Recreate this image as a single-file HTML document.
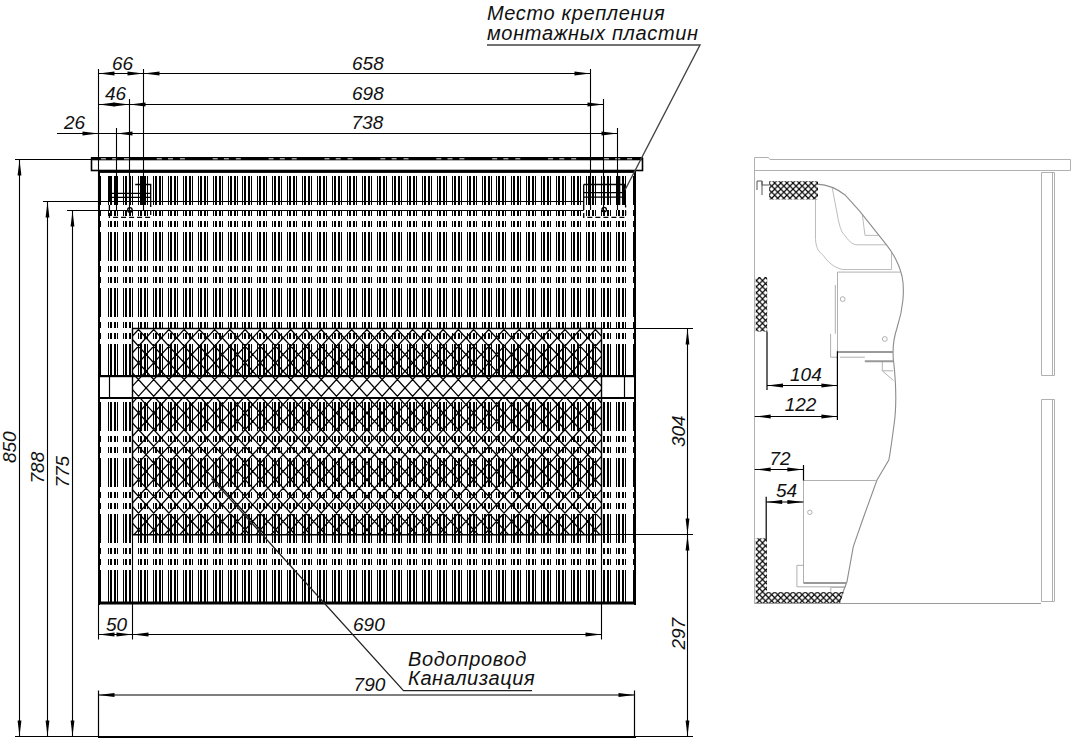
<!DOCTYPE html>
<html><head><meta charset="utf-8"><style>
html,body{margin:0;padding:0;background:#fff;width:1073px;height:745px;overflow:hidden}
svg{display:block}
text{font-family:"Liberation Sans",sans-serif;font-style:italic}
</style></head><body>
<svg width="1073" height="745" viewBox="0 0 1073 745">
<rect width="1073" height="745" fill="#fff"/>
<path d="M108 176h1v29h-1zM110 176h2v29h-2zM114 176h2v29h-2zM117 176h1v29h-1zM123 176h1v29h-1zM125 176h2v29h-2zM129 176h2v29h-2zM132 176h1v29h-1zM138 176h1v29h-1zM140 176h2v29h-2zM144 176h2v29h-2zM147 176h1v29h-1zM153 176h1v29h-1zM155 176h2v29h-2zM159 176h2v29h-2zM162 176h1v29h-1zM168 176h1v29h-1zM170 176h2v29h-2zM174 176h2v29h-2zM177 176h1v29h-1zM183 176h1v29h-1zM185 176h2v29h-2zM189 176h2v29h-2zM192 176h1v29h-1zM198 176h1v29h-1zM200 176h2v29h-2zM204 176h2v29h-2zM207 176h1v29h-1zM213 176h1v29h-1zM215 176h2v29h-2zM219 176h2v29h-2zM222 176h1v29h-1zM228 176h1v29h-1zM230 176h2v29h-2zM234 176h2v29h-2zM237 176h1v29h-1zM242 176h1v29h-1zM244 176h2v29h-2zM248 176h2v29h-2zM251 176h1v29h-1zM257 176h1v29h-1zM259 176h2v29h-2zM263 176h2v29h-2zM266 176h1v29h-1zM272 176h1v29h-1zM274 176h2v29h-2zM278 176h2v29h-2zM281 176h1v29h-1zM287 176h1v29h-1zM289 176h2v29h-2zM293 176h2v29h-2zM296 176h1v29h-1zM302 176h1v29h-1zM304 176h2v29h-2zM308 176h2v29h-2zM311 176h1v29h-1zM317 176h1v29h-1zM319 176h2v29h-2zM323 176h2v29h-2zM326 176h1v29h-1zM332 176h1v29h-1zM334 176h2v29h-2zM338 176h2v29h-2zM341 176h1v29h-1zM347 176h1v29h-1zM349 176h2v29h-2zM353 176h2v29h-2zM356 176h1v29h-1zM362 176h1v29h-1zM364 176h2v29h-2zM368 176h2v29h-2zM371 176h1v29h-1zM377 176h1v29h-1zM379 176h2v29h-2zM383 176h2v29h-2zM386 176h1v29h-1zM392 176h1v29h-1zM394 176h2v29h-2zM398 176h2v29h-2zM401 176h1v29h-1zM407 176h1v29h-1zM409 176h2v29h-2zM413 176h2v29h-2zM416 176h1v29h-1zM422 176h1v29h-1zM424 176h2v29h-2zM428 176h2v29h-2zM431 176h1v29h-1zM437 176h1v29h-1zM439 176h2v29h-2zM443 176h2v29h-2zM446 176h1v29h-1zM452 176h1v29h-1zM454 176h2v29h-2zM458 176h2v29h-2zM461 176h1v29h-1zM467 176h1v29h-1zM469 176h2v29h-2zM473 176h2v29h-2zM476 176h1v29h-1zM482 176h1v29h-1zM484 176h2v29h-2zM488 176h2v29h-2zM491 176h1v29h-1zM496 176h1v29h-1zM498 176h2v29h-2zM502 176h2v29h-2zM505 176h1v29h-1zM511 176h1v29h-1zM513 176h2v29h-2zM517 176h2v29h-2zM520 176h1v29h-1zM526 176h1v29h-1zM528 176h2v29h-2zM532 176h2v29h-2zM535 176h1v29h-1zM541 176h1v29h-1zM543 176h2v29h-2zM547 176h2v29h-2zM550 176h1v29h-1zM556 176h1v29h-1zM558 176h2v29h-2zM562 176h2v29h-2zM565 176h1v29h-1zM571 176h1v29h-1zM573 176h2v29h-2zM577 176h2v29h-2zM580 176h1v29h-1zM586 176h1v29h-1zM588 176h2v29h-2zM592 176h2v29h-2zM595 176h1v29h-1zM601 176h1v29h-1zM603 176h2v29h-2zM607 176h2v29h-2zM610 176h1v29h-1zM616 176h1v29h-1zM618 176h2v29h-2zM622 176h2v29h-2zM625 176h1v29h-1zM100 176h1v29h-1zM633 176h1v29h-1zM108 210h1v6h-1zM110 210h2v6h-2zM114 210h2v6h-2zM117 210h1v6h-1zM123 210h1v6h-1zM125 210h2v6h-2zM129 210h2v6h-2zM132 210h1v6h-1zM138 210h1v6h-1zM140 210h2v6h-2zM144 210h2v6h-2zM147 210h1v6h-1zM153 210h1v6h-1zM155 210h2v6h-2zM159 210h2v6h-2zM162 210h1v6h-1zM168 210h1v6h-1zM170 210h2v6h-2zM174 210h2v6h-2zM177 210h1v6h-1zM183 210h1v6h-1zM185 210h2v6h-2zM189 210h2v6h-2zM192 210h1v6h-1zM198 210h1v6h-1zM200 210h2v6h-2zM204 210h2v6h-2zM207 210h1v6h-1zM213 210h1v6h-1zM215 210h2v6h-2zM219 210h2v6h-2zM222 210h1v6h-1zM228 210h1v6h-1zM230 210h2v6h-2zM234 210h2v6h-2zM237 210h1v6h-1zM242 210h1v6h-1zM244 210h2v6h-2zM248 210h2v6h-2zM251 210h1v6h-1zM257 210h1v6h-1zM259 210h2v6h-2zM263 210h2v6h-2zM266 210h1v6h-1zM272 210h1v6h-1zM274 210h2v6h-2zM278 210h2v6h-2zM281 210h1v6h-1zM287 210h1v6h-1zM289 210h2v6h-2zM293 210h2v6h-2zM296 210h1v6h-1zM302 210h1v6h-1zM304 210h2v6h-2zM308 210h2v6h-2zM311 210h1v6h-1zM317 210h1v6h-1zM319 210h2v6h-2zM323 210h2v6h-2zM326 210h1v6h-1zM332 210h1v6h-1zM334 210h2v6h-2zM338 210h2v6h-2zM341 210h1v6h-1zM347 210h1v6h-1zM349 210h2v6h-2zM353 210h2v6h-2zM356 210h1v6h-1zM362 210h1v6h-1zM364 210h2v6h-2zM368 210h2v6h-2zM371 210h1v6h-1zM377 210h1v6h-1zM379 210h2v6h-2zM383 210h2v6h-2zM386 210h1v6h-1zM392 210h1v6h-1zM394 210h2v6h-2zM398 210h2v6h-2zM401 210h1v6h-1zM407 210h1v6h-1zM409 210h2v6h-2zM413 210h2v6h-2zM416 210h1v6h-1zM422 210h1v6h-1zM424 210h2v6h-2zM428 210h2v6h-2zM431 210h1v6h-1zM437 210h1v6h-1zM439 210h2v6h-2zM443 210h2v6h-2zM446 210h1v6h-1zM452 210h1v6h-1zM454 210h2v6h-2zM458 210h2v6h-2zM461 210h1v6h-1zM467 210h1v6h-1zM469 210h2v6h-2zM473 210h2v6h-2zM476 210h1v6h-1zM482 210h1v6h-1zM484 210h2v6h-2zM488 210h2v6h-2zM491 210h1v6h-1zM496 210h1v6h-1zM498 210h2v6h-2zM502 210h2v6h-2zM505 210h1v6h-1zM511 210h1v6h-1zM513 210h2v6h-2zM517 210h2v6h-2zM520 210h1v6h-1zM526 210h1v6h-1zM528 210h2v6h-2zM532 210h2v6h-2zM535 210h1v6h-1zM541 210h1v6h-1zM543 210h2v6h-2zM547 210h2v6h-2zM550 210h1v6h-1zM556 210h1v6h-1zM558 210h2v6h-2zM562 210h2v6h-2zM565 210h1v6h-1zM571 210h1v6h-1zM573 210h2v6h-2zM577 210h2v6h-2zM580 210h1v6h-1zM586 210h1v6h-1zM588 210h2v6h-2zM592 210h2v6h-2zM595 210h1v6h-1zM601 210h1v6h-1zM603 210h2v6h-2zM607 210h2v6h-2zM610 210h1v6h-1zM616 210h1v6h-1zM618 210h2v6h-2zM622 210h2v6h-2zM625 210h1v6h-1zM100 210h1v6h-1zM633 210h1v6h-1zM108 221h1v6h-1zM110 221h2v6h-2zM114 221h2v6h-2zM117 221h1v6h-1zM123 221h1v6h-1zM125 221h2v6h-2zM129 221h2v6h-2zM132 221h1v6h-1zM138 221h1v6h-1zM140 221h2v6h-2zM144 221h2v6h-2zM147 221h1v6h-1zM153 221h1v6h-1zM155 221h2v6h-2zM159 221h2v6h-2zM162 221h1v6h-1zM168 221h1v6h-1zM170 221h2v6h-2zM174 221h2v6h-2zM177 221h1v6h-1zM183 221h1v6h-1zM185 221h2v6h-2zM189 221h2v6h-2zM192 221h1v6h-1zM198 221h1v6h-1zM200 221h2v6h-2zM204 221h2v6h-2zM207 221h1v6h-1zM213 221h1v6h-1zM215 221h2v6h-2zM219 221h2v6h-2zM222 221h1v6h-1zM228 221h1v6h-1zM230 221h2v6h-2zM234 221h2v6h-2zM237 221h1v6h-1zM242 221h1v6h-1zM244 221h2v6h-2zM248 221h2v6h-2zM251 221h1v6h-1zM257 221h1v6h-1zM259 221h2v6h-2zM263 221h2v6h-2zM266 221h1v6h-1zM272 221h1v6h-1zM274 221h2v6h-2zM278 221h2v6h-2zM281 221h1v6h-1zM287 221h1v6h-1zM289 221h2v6h-2zM293 221h2v6h-2zM296 221h1v6h-1zM302 221h1v6h-1zM304 221h2v6h-2zM308 221h2v6h-2zM311 221h1v6h-1zM317 221h1v6h-1zM319 221h2v6h-2zM323 221h2v6h-2zM326 221h1v6h-1zM332 221h1v6h-1zM334 221h2v6h-2zM338 221h2v6h-2zM341 221h1v6h-1zM347 221h1v6h-1zM349 221h2v6h-2zM353 221h2v6h-2zM356 221h1v6h-1zM362 221h1v6h-1zM364 221h2v6h-2zM368 221h2v6h-2zM371 221h1v6h-1zM377 221h1v6h-1zM379 221h2v6h-2zM383 221h2v6h-2zM386 221h1v6h-1zM392 221h1v6h-1zM394 221h2v6h-2zM398 221h2v6h-2zM401 221h1v6h-1zM407 221h1v6h-1zM409 221h2v6h-2zM413 221h2v6h-2zM416 221h1v6h-1zM422 221h1v6h-1zM424 221h2v6h-2zM428 221h2v6h-2zM431 221h1v6h-1zM437 221h1v6h-1zM439 221h2v6h-2zM443 221h2v6h-2zM446 221h1v6h-1zM452 221h1v6h-1zM454 221h2v6h-2zM458 221h2v6h-2zM461 221h1v6h-1zM467 221h1v6h-1zM469 221h2v6h-2zM473 221h2v6h-2zM476 221h1v6h-1zM482 221h1v6h-1zM484 221h2v6h-2zM488 221h2v6h-2zM491 221h1v6h-1zM496 221h1v6h-1zM498 221h2v6h-2zM502 221h2v6h-2zM505 221h1v6h-1zM511 221h1v6h-1zM513 221h2v6h-2zM517 221h2v6h-2zM520 221h1v6h-1zM526 221h1v6h-1zM528 221h2v6h-2zM532 221h2v6h-2zM535 221h1v6h-1zM541 221h1v6h-1zM543 221h2v6h-2zM547 221h2v6h-2zM550 221h1v6h-1zM556 221h1v6h-1zM558 221h2v6h-2zM562 221h2v6h-2zM565 221h1v6h-1zM571 221h1v6h-1zM573 221h2v6h-2zM577 221h2v6h-2zM580 221h1v6h-1zM586 221h1v6h-1zM588 221h2v6h-2zM592 221h2v6h-2zM595 221h1v6h-1zM601 221h1v6h-1zM603 221h2v6h-2zM607 221h2v6h-2zM610 221h1v6h-1zM616 221h1v6h-1zM618 221h2v6h-2zM622 221h2v6h-2zM625 221h1v6h-1zM100 221h1v6h-1zM633 221h1v6h-1zM108 232h1v29h-1zM110 232h2v29h-2zM114 232h2v29h-2zM117 232h1v29h-1zM123 232h1v29h-1zM125 232h2v29h-2zM129 232h2v29h-2zM132 232h1v29h-1zM138 232h1v29h-1zM140 232h2v29h-2zM144 232h2v29h-2zM147 232h1v29h-1zM153 232h1v29h-1zM155 232h2v29h-2zM159 232h2v29h-2zM162 232h1v29h-1zM168 232h1v29h-1zM170 232h2v29h-2zM174 232h2v29h-2zM177 232h1v29h-1zM183 232h1v29h-1zM185 232h2v29h-2zM189 232h2v29h-2zM192 232h1v29h-1zM198 232h1v29h-1zM200 232h2v29h-2zM204 232h2v29h-2zM207 232h1v29h-1zM213 232h1v29h-1zM215 232h2v29h-2zM219 232h2v29h-2zM222 232h1v29h-1zM228 232h1v29h-1zM230 232h2v29h-2zM234 232h2v29h-2zM237 232h1v29h-1zM242 232h1v29h-1zM244 232h2v29h-2zM248 232h2v29h-2zM251 232h1v29h-1zM257 232h1v29h-1zM259 232h2v29h-2zM263 232h2v29h-2zM266 232h1v29h-1zM272 232h1v29h-1zM274 232h2v29h-2zM278 232h2v29h-2zM281 232h1v29h-1zM287 232h1v29h-1zM289 232h2v29h-2zM293 232h2v29h-2zM296 232h1v29h-1zM302 232h1v29h-1zM304 232h2v29h-2zM308 232h2v29h-2zM311 232h1v29h-1zM317 232h1v29h-1zM319 232h2v29h-2zM323 232h2v29h-2zM326 232h1v29h-1zM332 232h1v29h-1zM334 232h2v29h-2zM338 232h2v29h-2zM341 232h1v29h-1zM347 232h1v29h-1zM349 232h2v29h-2zM353 232h2v29h-2zM356 232h1v29h-1zM362 232h1v29h-1zM364 232h2v29h-2zM368 232h2v29h-2zM371 232h1v29h-1zM377 232h1v29h-1zM379 232h2v29h-2zM383 232h2v29h-2zM386 232h1v29h-1zM392 232h1v29h-1zM394 232h2v29h-2zM398 232h2v29h-2zM401 232h1v29h-1zM407 232h1v29h-1zM409 232h2v29h-2zM413 232h2v29h-2zM416 232h1v29h-1zM422 232h1v29h-1zM424 232h2v29h-2zM428 232h2v29h-2zM431 232h1v29h-1zM437 232h1v29h-1zM439 232h2v29h-2zM443 232h2v29h-2zM446 232h1v29h-1zM452 232h1v29h-1zM454 232h2v29h-2zM458 232h2v29h-2zM461 232h1v29h-1zM467 232h1v29h-1zM469 232h2v29h-2zM473 232h2v29h-2zM476 232h1v29h-1zM482 232h1v29h-1zM484 232h2v29h-2zM488 232h2v29h-2zM491 232h1v29h-1zM496 232h1v29h-1zM498 232h2v29h-2zM502 232h2v29h-2zM505 232h1v29h-1zM511 232h1v29h-1zM513 232h2v29h-2zM517 232h2v29h-2zM520 232h1v29h-1zM526 232h1v29h-1zM528 232h2v29h-2zM532 232h2v29h-2zM535 232h1v29h-1zM541 232h1v29h-1zM543 232h2v29h-2zM547 232h2v29h-2zM550 232h1v29h-1zM556 232h1v29h-1zM558 232h2v29h-2zM562 232h2v29h-2zM565 232h1v29h-1zM571 232h1v29h-1zM573 232h2v29h-2zM577 232h2v29h-2zM580 232h1v29h-1zM586 232h1v29h-1zM588 232h2v29h-2zM592 232h2v29h-2zM595 232h1v29h-1zM601 232h1v29h-1zM603 232h2v29h-2zM607 232h2v29h-2zM610 232h1v29h-1zM616 232h1v29h-1zM618 232h2v29h-2zM622 232h2v29h-2zM625 232h1v29h-1zM100 232h1v29h-1zM633 232h1v29h-1zM108 266h1v6h-1zM110 266h2v6h-2zM114 266h2v6h-2zM117 266h1v6h-1zM123 266h1v6h-1zM125 266h2v6h-2zM129 266h2v6h-2zM132 266h1v6h-1zM138 266h1v6h-1zM140 266h2v6h-2zM144 266h2v6h-2zM147 266h1v6h-1zM153 266h1v6h-1zM155 266h2v6h-2zM159 266h2v6h-2zM162 266h1v6h-1zM168 266h1v6h-1zM170 266h2v6h-2zM174 266h2v6h-2zM177 266h1v6h-1zM183 266h1v6h-1zM185 266h2v6h-2zM189 266h2v6h-2zM192 266h1v6h-1zM198 266h1v6h-1zM200 266h2v6h-2zM204 266h2v6h-2zM207 266h1v6h-1zM213 266h1v6h-1zM215 266h2v6h-2zM219 266h2v6h-2zM222 266h1v6h-1zM228 266h1v6h-1zM230 266h2v6h-2zM234 266h2v6h-2zM237 266h1v6h-1zM242 266h1v6h-1zM244 266h2v6h-2zM248 266h2v6h-2zM251 266h1v6h-1zM257 266h1v6h-1zM259 266h2v6h-2zM263 266h2v6h-2zM266 266h1v6h-1zM272 266h1v6h-1zM274 266h2v6h-2zM278 266h2v6h-2zM281 266h1v6h-1zM287 266h1v6h-1zM289 266h2v6h-2zM293 266h2v6h-2zM296 266h1v6h-1zM302 266h1v6h-1zM304 266h2v6h-2zM308 266h2v6h-2zM311 266h1v6h-1zM317 266h1v6h-1zM319 266h2v6h-2zM323 266h2v6h-2zM326 266h1v6h-1zM332 266h1v6h-1zM334 266h2v6h-2zM338 266h2v6h-2zM341 266h1v6h-1zM347 266h1v6h-1zM349 266h2v6h-2zM353 266h2v6h-2zM356 266h1v6h-1zM362 266h1v6h-1zM364 266h2v6h-2zM368 266h2v6h-2zM371 266h1v6h-1zM377 266h1v6h-1zM379 266h2v6h-2zM383 266h2v6h-2zM386 266h1v6h-1zM392 266h1v6h-1zM394 266h2v6h-2zM398 266h2v6h-2zM401 266h1v6h-1zM407 266h1v6h-1zM409 266h2v6h-2zM413 266h2v6h-2zM416 266h1v6h-1zM422 266h1v6h-1zM424 266h2v6h-2zM428 266h2v6h-2zM431 266h1v6h-1zM437 266h1v6h-1zM439 266h2v6h-2zM443 266h2v6h-2zM446 266h1v6h-1zM452 266h1v6h-1zM454 266h2v6h-2zM458 266h2v6h-2zM461 266h1v6h-1zM467 266h1v6h-1zM469 266h2v6h-2zM473 266h2v6h-2zM476 266h1v6h-1zM482 266h1v6h-1zM484 266h2v6h-2zM488 266h2v6h-2zM491 266h1v6h-1zM496 266h1v6h-1zM498 266h2v6h-2zM502 266h2v6h-2zM505 266h1v6h-1zM511 266h1v6h-1zM513 266h2v6h-2zM517 266h2v6h-2zM520 266h1v6h-1zM526 266h1v6h-1zM528 266h2v6h-2zM532 266h2v6h-2zM535 266h1v6h-1zM541 266h1v6h-1zM543 266h2v6h-2zM547 266h2v6h-2zM550 266h1v6h-1zM556 266h1v6h-1zM558 266h2v6h-2zM562 266h2v6h-2zM565 266h1v6h-1zM571 266h1v6h-1zM573 266h2v6h-2zM577 266h2v6h-2zM580 266h1v6h-1zM586 266h1v6h-1zM588 266h2v6h-2zM592 266h2v6h-2zM595 266h1v6h-1zM601 266h1v6h-1zM603 266h2v6h-2zM607 266h2v6h-2zM610 266h1v6h-1zM616 266h1v6h-1zM618 266h2v6h-2zM622 266h2v6h-2zM625 266h1v6h-1zM100 266h1v6h-1zM633 266h1v6h-1zM108 277h1v6h-1zM110 277h2v6h-2zM114 277h2v6h-2zM117 277h1v6h-1zM123 277h1v6h-1zM125 277h2v6h-2zM129 277h2v6h-2zM132 277h1v6h-1zM138 277h1v6h-1zM140 277h2v6h-2zM144 277h2v6h-2zM147 277h1v6h-1zM153 277h1v6h-1zM155 277h2v6h-2zM159 277h2v6h-2zM162 277h1v6h-1zM168 277h1v6h-1zM170 277h2v6h-2zM174 277h2v6h-2zM177 277h1v6h-1zM183 277h1v6h-1zM185 277h2v6h-2zM189 277h2v6h-2zM192 277h1v6h-1zM198 277h1v6h-1zM200 277h2v6h-2zM204 277h2v6h-2zM207 277h1v6h-1zM213 277h1v6h-1zM215 277h2v6h-2zM219 277h2v6h-2zM222 277h1v6h-1zM228 277h1v6h-1zM230 277h2v6h-2zM234 277h2v6h-2zM237 277h1v6h-1zM242 277h1v6h-1zM244 277h2v6h-2zM248 277h2v6h-2zM251 277h1v6h-1zM257 277h1v6h-1zM259 277h2v6h-2zM263 277h2v6h-2zM266 277h1v6h-1zM272 277h1v6h-1zM274 277h2v6h-2zM278 277h2v6h-2zM281 277h1v6h-1zM287 277h1v6h-1zM289 277h2v6h-2zM293 277h2v6h-2zM296 277h1v6h-1zM302 277h1v6h-1zM304 277h2v6h-2zM308 277h2v6h-2zM311 277h1v6h-1zM317 277h1v6h-1zM319 277h2v6h-2zM323 277h2v6h-2zM326 277h1v6h-1zM332 277h1v6h-1zM334 277h2v6h-2zM338 277h2v6h-2zM341 277h1v6h-1zM347 277h1v6h-1zM349 277h2v6h-2zM353 277h2v6h-2zM356 277h1v6h-1zM362 277h1v6h-1zM364 277h2v6h-2zM368 277h2v6h-2zM371 277h1v6h-1zM377 277h1v6h-1zM379 277h2v6h-2zM383 277h2v6h-2zM386 277h1v6h-1zM392 277h1v6h-1zM394 277h2v6h-2zM398 277h2v6h-2zM401 277h1v6h-1zM407 277h1v6h-1zM409 277h2v6h-2zM413 277h2v6h-2zM416 277h1v6h-1zM422 277h1v6h-1zM424 277h2v6h-2zM428 277h2v6h-2zM431 277h1v6h-1zM437 277h1v6h-1zM439 277h2v6h-2zM443 277h2v6h-2zM446 277h1v6h-1zM452 277h1v6h-1zM454 277h2v6h-2zM458 277h2v6h-2zM461 277h1v6h-1zM467 277h1v6h-1zM469 277h2v6h-2zM473 277h2v6h-2zM476 277h1v6h-1zM482 277h1v6h-1zM484 277h2v6h-2zM488 277h2v6h-2zM491 277h1v6h-1zM496 277h1v6h-1zM498 277h2v6h-2zM502 277h2v6h-2zM505 277h1v6h-1zM511 277h1v6h-1zM513 277h2v6h-2zM517 277h2v6h-2zM520 277h1v6h-1zM526 277h1v6h-1zM528 277h2v6h-2zM532 277h2v6h-2zM535 277h1v6h-1zM541 277h1v6h-1zM543 277h2v6h-2zM547 277h2v6h-2zM550 277h1v6h-1zM556 277h1v6h-1zM558 277h2v6h-2zM562 277h2v6h-2zM565 277h1v6h-1zM571 277h1v6h-1zM573 277h2v6h-2zM577 277h2v6h-2zM580 277h1v6h-1zM586 277h1v6h-1zM588 277h2v6h-2zM592 277h2v6h-2zM595 277h1v6h-1zM601 277h1v6h-1zM603 277h2v6h-2zM607 277h2v6h-2zM610 277h1v6h-1zM616 277h1v6h-1zM618 277h2v6h-2zM622 277h2v6h-2zM625 277h1v6h-1zM100 277h1v6h-1zM633 277h1v6h-1zM108 288h1v29h-1zM110 288h2v29h-2zM114 288h2v29h-2zM117 288h1v29h-1zM123 288h1v29h-1zM125 288h2v29h-2zM129 288h2v29h-2zM132 288h1v29h-1zM138 288h1v29h-1zM140 288h2v29h-2zM144 288h2v29h-2zM147 288h1v29h-1zM153 288h1v29h-1zM155 288h2v29h-2zM159 288h2v29h-2zM162 288h1v29h-1zM168 288h1v29h-1zM170 288h2v29h-2zM174 288h2v29h-2zM177 288h1v29h-1zM183 288h1v29h-1zM185 288h2v29h-2zM189 288h2v29h-2zM192 288h1v29h-1zM198 288h1v29h-1zM200 288h2v29h-2zM204 288h2v29h-2zM207 288h1v29h-1zM213 288h1v29h-1zM215 288h2v29h-2zM219 288h2v29h-2zM222 288h1v29h-1zM228 288h1v29h-1zM230 288h2v29h-2zM234 288h2v29h-2zM237 288h1v29h-1zM242 288h1v29h-1zM244 288h2v29h-2zM248 288h2v29h-2zM251 288h1v29h-1zM257 288h1v29h-1zM259 288h2v29h-2zM263 288h2v29h-2zM266 288h1v29h-1zM272 288h1v29h-1zM274 288h2v29h-2zM278 288h2v29h-2zM281 288h1v29h-1zM287 288h1v29h-1zM289 288h2v29h-2zM293 288h2v29h-2zM296 288h1v29h-1zM302 288h1v29h-1zM304 288h2v29h-2zM308 288h2v29h-2zM311 288h1v29h-1zM317 288h1v29h-1zM319 288h2v29h-2zM323 288h2v29h-2zM326 288h1v29h-1zM332 288h1v29h-1zM334 288h2v29h-2zM338 288h2v29h-2zM341 288h1v29h-1zM347 288h1v29h-1zM349 288h2v29h-2zM353 288h2v29h-2zM356 288h1v29h-1zM362 288h1v29h-1zM364 288h2v29h-2zM368 288h2v29h-2zM371 288h1v29h-1zM377 288h1v29h-1zM379 288h2v29h-2zM383 288h2v29h-2zM386 288h1v29h-1zM392 288h1v29h-1zM394 288h2v29h-2zM398 288h2v29h-2zM401 288h1v29h-1zM407 288h1v29h-1zM409 288h2v29h-2zM413 288h2v29h-2zM416 288h1v29h-1zM422 288h1v29h-1zM424 288h2v29h-2zM428 288h2v29h-2zM431 288h1v29h-1zM437 288h1v29h-1zM439 288h2v29h-2zM443 288h2v29h-2zM446 288h1v29h-1zM452 288h1v29h-1zM454 288h2v29h-2zM458 288h2v29h-2zM461 288h1v29h-1zM467 288h1v29h-1zM469 288h2v29h-2zM473 288h2v29h-2zM476 288h1v29h-1zM482 288h1v29h-1zM484 288h2v29h-2zM488 288h2v29h-2zM491 288h1v29h-1zM496 288h1v29h-1zM498 288h2v29h-2zM502 288h2v29h-2zM505 288h1v29h-1zM511 288h1v29h-1zM513 288h2v29h-2zM517 288h2v29h-2zM520 288h1v29h-1zM526 288h1v29h-1zM528 288h2v29h-2zM532 288h2v29h-2zM535 288h1v29h-1zM541 288h1v29h-1zM543 288h2v29h-2zM547 288h2v29h-2zM550 288h1v29h-1zM556 288h1v29h-1zM558 288h2v29h-2zM562 288h2v29h-2zM565 288h1v29h-1zM571 288h1v29h-1zM573 288h2v29h-2zM577 288h2v29h-2zM580 288h1v29h-1zM586 288h1v29h-1zM588 288h2v29h-2zM592 288h2v29h-2zM595 288h1v29h-1zM601 288h1v29h-1zM603 288h2v29h-2zM607 288h2v29h-2zM610 288h1v29h-1zM616 288h1v29h-1zM618 288h2v29h-2zM622 288h2v29h-2zM625 288h1v29h-1zM100 288h1v29h-1zM633 288h1v29h-1zM108 322h1v6h-1zM110 322h2v6h-2zM114 322h2v6h-2zM117 322h1v6h-1zM123 322h1v6h-1zM125 322h2v6h-2zM129 322h2v6h-2zM132 322h1v6h-1zM138 322h1v6h-1zM140 322h2v6h-2zM144 322h2v6h-2zM147 322h1v6h-1zM153 322h1v6h-1zM155 322h2v6h-2zM159 322h2v6h-2zM162 322h1v6h-1zM168 322h1v6h-1zM170 322h2v6h-2zM174 322h2v6h-2zM177 322h1v6h-1zM183 322h1v6h-1zM185 322h2v6h-2zM189 322h2v6h-2zM192 322h1v6h-1zM198 322h1v6h-1zM200 322h2v6h-2zM204 322h2v6h-2zM207 322h1v6h-1zM213 322h1v6h-1zM215 322h2v6h-2zM219 322h2v6h-2zM222 322h1v6h-1zM228 322h1v6h-1zM230 322h2v6h-2zM234 322h2v6h-2zM237 322h1v6h-1zM242 322h1v6h-1zM244 322h2v6h-2zM248 322h2v6h-2zM251 322h1v6h-1zM257 322h1v6h-1zM259 322h2v6h-2zM263 322h2v6h-2zM266 322h1v6h-1zM272 322h1v6h-1zM274 322h2v6h-2zM278 322h2v6h-2zM281 322h1v6h-1zM287 322h1v6h-1zM289 322h2v6h-2zM293 322h2v6h-2zM296 322h1v6h-1zM302 322h1v6h-1zM304 322h2v6h-2zM308 322h2v6h-2zM311 322h1v6h-1zM317 322h1v6h-1zM319 322h2v6h-2zM323 322h2v6h-2zM326 322h1v6h-1zM332 322h1v6h-1zM334 322h2v6h-2zM338 322h2v6h-2zM341 322h1v6h-1zM347 322h1v6h-1zM349 322h2v6h-2zM353 322h2v6h-2zM356 322h1v6h-1zM362 322h1v6h-1zM364 322h2v6h-2zM368 322h2v6h-2zM371 322h1v6h-1zM377 322h1v6h-1zM379 322h2v6h-2zM383 322h2v6h-2zM386 322h1v6h-1zM392 322h1v6h-1zM394 322h2v6h-2zM398 322h2v6h-2zM401 322h1v6h-1zM407 322h1v6h-1zM409 322h2v6h-2zM413 322h2v6h-2zM416 322h1v6h-1zM422 322h1v6h-1zM424 322h2v6h-2zM428 322h2v6h-2zM431 322h1v6h-1zM437 322h1v6h-1zM439 322h2v6h-2zM443 322h2v6h-2zM446 322h1v6h-1zM452 322h1v6h-1zM454 322h2v6h-2zM458 322h2v6h-2zM461 322h1v6h-1zM467 322h1v6h-1zM469 322h2v6h-2zM473 322h2v6h-2zM476 322h1v6h-1zM482 322h1v6h-1zM484 322h2v6h-2zM488 322h2v6h-2zM491 322h1v6h-1zM496 322h1v6h-1zM498 322h2v6h-2zM502 322h2v6h-2zM505 322h1v6h-1zM511 322h1v6h-1zM513 322h2v6h-2zM517 322h2v6h-2zM520 322h1v6h-1zM526 322h1v6h-1zM528 322h2v6h-2zM532 322h2v6h-2zM535 322h1v6h-1zM541 322h1v6h-1zM543 322h2v6h-2zM547 322h2v6h-2zM550 322h1v6h-1zM556 322h1v6h-1zM558 322h2v6h-2zM562 322h2v6h-2zM565 322h1v6h-1zM571 322h1v6h-1zM573 322h2v6h-2zM577 322h2v6h-2zM580 322h1v6h-1zM586 322h1v6h-1zM588 322h2v6h-2zM592 322h2v6h-2zM595 322h1v6h-1zM601 322h1v6h-1zM603 322h2v6h-2zM607 322h2v6h-2zM610 322h1v6h-1zM616 322h1v6h-1zM618 322h2v6h-2zM622 322h2v6h-2zM625 322h1v6h-1zM100 322h1v6h-1zM633 322h1v6h-1zM108 333h1v6h-1zM110 333h2v6h-2zM114 333h2v6h-2zM117 333h1v6h-1zM123 333h1v6h-1zM125 333h2v6h-2zM129 333h2v6h-2zM132 333h1v6h-1zM138 333h1v6h-1zM140 333h2v6h-2zM144 333h2v6h-2zM147 333h1v6h-1zM153 333h1v6h-1zM155 333h2v6h-2zM159 333h2v6h-2zM162 333h1v6h-1zM168 333h1v6h-1zM170 333h2v6h-2zM174 333h2v6h-2zM177 333h1v6h-1zM183 333h1v6h-1zM185 333h2v6h-2zM189 333h2v6h-2zM192 333h1v6h-1zM198 333h1v6h-1zM200 333h2v6h-2zM204 333h2v6h-2zM207 333h1v6h-1zM213 333h1v6h-1zM215 333h2v6h-2zM219 333h2v6h-2zM222 333h1v6h-1zM228 333h1v6h-1zM230 333h2v6h-2zM234 333h2v6h-2zM237 333h1v6h-1zM242 333h1v6h-1zM244 333h2v6h-2zM248 333h2v6h-2zM251 333h1v6h-1zM257 333h1v6h-1zM259 333h2v6h-2zM263 333h2v6h-2zM266 333h1v6h-1zM272 333h1v6h-1zM274 333h2v6h-2zM278 333h2v6h-2zM281 333h1v6h-1zM287 333h1v6h-1zM289 333h2v6h-2zM293 333h2v6h-2zM296 333h1v6h-1zM302 333h1v6h-1zM304 333h2v6h-2zM308 333h2v6h-2zM311 333h1v6h-1zM317 333h1v6h-1zM319 333h2v6h-2zM323 333h2v6h-2zM326 333h1v6h-1zM332 333h1v6h-1zM334 333h2v6h-2zM338 333h2v6h-2zM341 333h1v6h-1zM347 333h1v6h-1zM349 333h2v6h-2zM353 333h2v6h-2zM356 333h1v6h-1zM362 333h1v6h-1zM364 333h2v6h-2zM368 333h2v6h-2zM371 333h1v6h-1zM377 333h1v6h-1zM379 333h2v6h-2zM383 333h2v6h-2zM386 333h1v6h-1zM392 333h1v6h-1zM394 333h2v6h-2zM398 333h2v6h-2zM401 333h1v6h-1zM407 333h1v6h-1zM409 333h2v6h-2zM413 333h2v6h-2zM416 333h1v6h-1zM422 333h1v6h-1zM424 333h2v6h-2zM428 333h2v6h-2zM431 333h1v6h-1zM437 333h1v6h-1zM439 333h2v6h-2zM443 333h2v6h-2zM446 333h1v6h-1zM452 333h1v6h-1zM454 333h2v6h-2zM458 333h2v6h-2zM461 333h1v6h-1zM467 333h1v6h-1zM469 333h2v6h-2zM473 333h2v6h-2zM476 333h1v6h-1zM482 333h1v6h-1zM484 333h2v6h-2zM488 333h2v6h-2zM491 333h1v6h-1zM496 333h1v6h-1zM498 333h2v6h-2zM502 333h2v6h-2zM505 333h1v6h-1zM511 333h1v6h-1zM513 333h2v6h-2zM517 333h2v6h-2zM520 333h1v6h-1zM526 333h1v6h-1zM528 333h2v6h-2zM532 333h2v6h-2zM535 333h1v6h-1zM541 333h1v6h-1zM543 333h2v6h-2zM547 333h2v6h-2zM550 333h1v6h-1zM556 333h1v6h-1zM558 333h2v6h-2zM562 333h2v6h-2zM565 333h1v6h-1zM571 333h1v6h-1zM573 333h2v6h-2zM577 333h2v6h-2zM580 333h1v6h-1zM586 333h1v6h-1zM588 333h2v6h-2zM592 333h2v6h-2zM595 333h1v6h-1zM601 333h1v6h-1zM603 333h2v6h-2zM607 333h2v6h-2zM610 333h1v6h-1zM616 333h1v6h-1zM618 333h2v6h-2zM622 333h2v6h-2zM625 333h1v6h-1zM100 333h1v6h-1zM633 333h1v6h-1zM108 344h1v32h-1zM110 344h2v32h-2zM114 344h2v32h-2zM117 344h1v32h-1zM123 344h1v32h-1zM125 344h2v32h-2zM129 344h2v32h-2zM132 344h1v32h-1zM138 344h1v32h-1zM140 344h2v32h-2zM144 344h2v32h-2zM147 344h1v32h-1zM153 344h1v32h-1zM155 344h2v32h-2zM159 344h2v32h-2zM162 344h1v32h-1zM168 344h1v32h-1zM170 344h2v32h-2zM174 344h2v32h-2zM177 344h1v32h-1zM183 344h1v32h-1zM185 344h2v32h-2zM189 344h2v32h-2zM192 344h1v32h-1zM198 344h1v32h-1zM200 344h2v32h-2zM204 344h2v32h-2zM207 344h1v32h-1zM213 344h1v32h-1zM215 344h2v32h-2zM219 344h2v32h-2zM222 344h1v32h-1zM228 344h1v32h-1zM230 344h2v32h-2zM234 344h2v32h-2zM237 344h1v32h-1zM242 344h1v32h-1zM244 344h2v32h-2zM248 344h2v32h-2zM251 344h1v32h-1zM257 344h1v32h-1zM259 344h2v32h-2zM263 344h2v32h-2zM266 344h1v32h-1zM272 344h1v32h-1zM274 344h2v32h-2zM278 344h2v32h-2zM281 344h1v32h-1zM287 344h1v32h-1zM289 344h2v32h-2zM293 344h2v32h-2zM296 344h1v32h-1zM302 344h1v32h-1zM304 344h2v32h-2zM308 344h2v32h-2zM311 344h1v32h-1zM317 344h1v32h-1zM319 344h2v32h-2zM323 344h2v32h-2zM326 344h1v32h-1zM332 344h1v32h-1zM334 344h2v32h-2zM338 344h2v32h-2zM341 344h1v32h-1zM347 344h1v32h-1zM349 344h2v32h-2zM353 344h2v32h-2zM356 344h1v32h-1zM362 344h1v32h-1zM364 344h2v32h-2zM368 344h2v32h-2zM371 344h1v32h-1zM377 344h1v32h-1zM379 344h2v32h-2zM383 344h2v32h-2zM386 344h1v32h-1zM392 344h1v32h-1zM394 344h2v32h-2zM398 344h2v32h-2zM401 344h1v32h-1zM407 344h1v32h-1zM409 344h2v32h-2zM413 344h2v32h-2zM416 344h1v32h-1zM422 344h1v32h-1zM424 344h2v32h-2zM428 344h2v32h-2zM431 344h1v32h-1zM437 344h1v32h-1zM439 344h2v32h-2zM443 344h2v32h-2zM446 344h1v32h-1zM452 344h1v32h-1zM454 344h2v32h-2zM458 344h2v32h-2zM461 344h1v32h-1zM467 344h1v32h-1zM469 344h2v32h-2zM473 344h2v32h-2zM476 344h1v32h-1zM482 344h1v32h-1zM484 344h2v32h-2zM488 344h2v32h-2zM491 344h1v32h-1zM496 344h1v32h-1zM498 344h2v32h-2zM502 344h2v32h-2zM505 344h1v32h-1zM511 344h1v32h-1zM513 344h2v32h-2zM517 344h2v32h-2zM520 344h1v32h-1zM526 344h1v32h-1zM528 344h2v32h-2zM532 344h2v32h-2zM535 344h1v32h-1zM541 344h1v32h-1zM543 344h2v32h-2zM547 344h2v32h-2zM550 344h1v32h-1zM556 344h1v32h-1zM558 344h2v32h-2zM562 344h2v32h-2zM565 344h1v32h-1zM571 344h1v32h-1zM573 344h2v32h-2zM577 344h2v32h-2zM580 344h1v32h-1zM586 344h1v32h-1zM588 344h2v32h-2zM592 344h2v32h-2zM595 344h1v32h-1zM601 344h1v32h-1zM603 344h2v32h-2zM607 344h2v32h-2zM610 344h1v32h-1zM616 344h1v32h-1zM618 344h2v32h-2zM622 344h2v32h-2zM625 344h1v32h-1zM100 344h1v32h-1zM633 344h1v32h-1zM108 402h1v29h-1zM110 402h2v29h-2zM114 402h2v29h-2zM117 402h1v29h-1zM123 402h1v29h-1zM125 402h2v29h-2zM129 402h2v29h-2zM132 402h1v29h-1zM138 402h1v29h-1zM140 402h2v29h-2zM144 402h2v29h-2zM147 402h1v29h-1zM153 402h1v29h-1zM155 402h2v29h-2zM159 402h2v29h-2zM162 402h1v29h-1zM168 402h1v29h-1zM170 402h2v29h-2zM174 402h2v29h-2zM177 402h1v29h-1zM183 402h1v29h-1zM185 402h2v29h-2zM189 402h2v29h-2zM192 402h1v29h-1zM198 402h1v29h-1zM200 402h2v29h-2zM204 402h2v29h-2zM207 402h1v29h-1zM213 402h1v29h-1zM215 402h2v29h-2zM219 402h2v29h-2zM222 402h1v29h-1zM228 402h1v29h-1zM230 402h2v29h-2zM234 402h2v29h-2zM237 402h1v29h-1zM242 402h1v29h-1zM244 402h2v29h-2zM248 402h2v29h-2zM251 402h1v29h-1zM257 402h1v29h-1zM259 402h2v29h-2zM263 402h2v29h-2zM266 402h1v29h-1zM272 402h1v29h-1zM274 402h2v29h-2zM278 402h2v29h-2zM281 402h1v29h-1zM287 402h1v29h-1zM289 402h2v29h-2zM293 402h2v29h-2zM296 402h1v29h-1zM302 402h1v29h-1zM304 402h2v29h-2zM308 402h2v29h-2zM311 402h1v29h-1zM317 402h1v29h-1zM319 402h2v29h-2zM323 402h2v29h-2zM326 402h1v29h-1zM332 402h1v29h-1zM334 402h2v29h-2zM338 402h2v29h-2zM341 402h1v29h-1zM347 402h1v29h-1zM349 402h2v29h-2zM353 402h2v29h-2zM356 402h1v29h-1zM362 402h1v29h-1zM364 402h2v29h-2zM368 402h2v29h-2zM371 402h1v29h-1zM377 402h1v29h-1zM379 402h2v29h-2zM383 402h2v29h-2zM386 402h1v29h-1zM392 402h1v29h-1zM394 402h2v29h-2zM398 402h2v29h-2zM401 402h1v29h-1zM407 402h1v29h-1zM409 402h2v29h-2zM413 402h2v29h-2zM416 402h1v29h-1zM422 402h1v29h-1zM424 402h2v29h-2zM428 402h2v29h-2zM431 402h1v29h-1zM437 402h1v29h-1zM439 402h2v29h-2zM443 402h2v29h-2zM446 402h1v29h-1zM452 402h1v29h-1zM454 402h2v29h-2zM458 402h2v29h-2zM461 402h1v29h-1zM467 402h1v29h-1zM469 402h2v29h-2zM473 402h2v29h-2zM476 402h1v29h-1zM482 402h1v29h-1zM484 402h2v29h-2zM488 402h2v29h-2zM491 402h1v29h-1zM496 402h1v29h-1zM498 402h2v29h-2zM502 402h2v29h-2zM505 402h1v29h-1zM511 402h1v29h-1zM513 402h2v29h-2zM517 402h2v29h-2zM520 402h1v29h-1zM526 402h1v29h-1zM528 402h2v29h-2zM532 402h2v29h-2zM535 402h1v29h-1zM541 402h1v29h-1zM543 402h2v29h-2zM547 402h2v29h-2zM550 402h1v29h-1zM556 402h1v29h-1zM558 402h2v29h-2zM562 402h2v29h-2zM565 402h1v29h-1zM571 402h1v29h-1zM573 402h2v29h-2zM577 402h2v29h-2zM580 402h1v29h-1zM586 402h1v29h-1zM588 402h2v29h-2zM592 402h2v29h-2zM595 402h1v29h-1zM601 402h1v29h-1zM603 402h2v29h-2zM607 402h2v29h-2zM610 402h1v29h-1zM616 402h1v29h-1zM618 402h2v29h-2zM622 402h2v29h-2zM625 402h1v29h-1zM100 402h1v29h-1zM633 402h1v29h-1zM108 436h1v6h-1zM110 436h2v6h-2zM114 436h2v6h-2zM117 436h1v6h-1zM123 436h1v6h-1zM125 436h2v6h-2zM129 436h2v6h-2zM132 436h1v6h-1zM138 436h1v6h-1zM140 436h2v6h-2zM144 436h2v6h-2zM147 436h1v6h-1zM153 436h1v6h-1zM155 436h2v6h-2zM159 436h2v6h-2zM162 436h1v6h-1zM168 436h1v6h-1zM170 436h2v6h-2zM174 436h2v6h-2zM177 436h1v6h-1zM183 436h1v6h-1zM185 436h2v6h-2zM189 436h2v6h-2zM192 436h1v6h-1zM198 436h1v6h-1zM200 436h2v6h-2zM204 436h2v6h-2zM207 436h1v6h-1zM213 436h1v6h-1zM215 436h2v6h-2zM219 436h2v6h-2zM222 436h1v6h-1zM228 436h1v6h-1zM230 436h2v6h-2zM234 436h2v6h-2zM237 436h1v6h-1zM242 436h1v6h-1zM244 436h2v6h-2zM248 436h2v6h-2zM251 436h1v6h-1zM257 436h1v6h-1zM259 436h2v6h-2zM263 436h2v6h-2zM266 436h1v6h-1zM272 436h1v6h-1zM274 436h2v6h-2zM278 436h2v6h-2zM281 436h1v6h-1zM287 436h1v6h-1zM289 436h2v6h-2zM293 436h2v6h-2zM296 436h1v6h-1zM302 436h1v6h-1zM304 436h2v6h-2zM308 436h2v6h-2zM311 436h1v6h-1zM317 436h1v6h-1zM319 436h2v6h-2zM323 436h2v6h-2zM326 436h1v6h-1zM332 436h1v6h-1zM334 436h2v6h-2zM338 436h2v6h-2zM341 436h1v6h-1zM347 436h1v6h-1zM349 436h2v6h-2zM353 436h2v6h-2zM356 436h1v6h-1zM362 436h1v6h-1zM364 436h2v6h-2zM368 436h2v6h-2zM371 436h1v6h-1zM377 436h1v6h-1zM379 436h2v6h-2zM383 436h2v6h-2zM386 436h1v6h-1zM392 436h1v6h-1zM394 436h2v6h-2zM398 436h2v6h-2zM401 436h1v6h-1zM407 436h1v6h-1zM409 436h2v6h-2zM413 436h2v6h-2zM416 436h1v6h-1zM422 436h1v6h-1zM424 436h2v6h-2zM428 436h2v6h-2zM431 436h1v6h-1zM437 436h1v6h-1zM439 436h2v6h-2zM443 436h2v6h-2zM446 436h1v6h-1zM452 436h1v6h-1zM454 436h2v6h-2zM458 436h2v6h-2zM461 436h1v6h-1zM467 436h1v6h-1zM469 436h2v6h-2zM473 436h2v6h-2zM476 436h1v6h-1zM482 436h1v6h-1zM484 436h2v6h-2zM488 436h2v6h-2zM491 436h1v6h-1zM496 436h1v6h-1zM498 436h2v6h-2zM502 436h2v6h-2zM505 436h1v6h-1zM511 436h1v6h-1zM513 436h2v6h-2zM517 436h2v6h-2zM520 436h1v6h-1zM526 436h1v6h-1zM528 436h2v6h-2zM532 436h2v6h-2zM535 436h1v6h-1zM541 436h1v6h-1zM543 436h2v6h-2zM547 436h2v6h-2zM550 436h1v6h-1zM556 436h1v6h-1zM558 436h2v6h-2zM562 436h2v6h-2zM565 436h1v6h-1zM571 436h1v6h-1zM573 436h2v6h-2zM577 436h2v6h-2zM580 436h1v6h-1zM586 436h1v6h-1zM588 436h2v6h-2zM592 436h2v6h-2zM595 436h1v6h-1zM601 436h1v6h-1zM603 436h2v6h-2zM607 436h2v6h-2zM610 436h1v6h-1zM616 436h1v6h-1zM618 436h2v6h-2zM622 436h2v6h-2zM625 436h1v6h-1zM100 436h1v6h-1zM633 436h1v6h-1zM108 447h1v6h-1zM110 447h2v6h-2zM114 447h2v6h-2zM117 447h1v6h-1zM123 447h1v6h-1zM125 447h2v6h-2zM129 447h2v6h-2zM132 447h1v6h-1zM138 447h1v6h-1zM140 447h2v6h-2zM144 447h2v6h-2zM147 447h1v6h-1zM153 447h1v6h-1zM155 447h2v6h-2zM159 447h2v6h-2zM162 447h1v6h-1zM168 447h1v6h-1zM170 447h2v6h-2zM174 447h2v6h-2zM177 447h1v6h-1zM183 447h1v6h-1zM185 447h2v6h-2zM189 447h2v6h-2zM192 447h1v6h-1zM198 447h1v6h-1zM200 447h2v6h-2zM204 447h2v6h-2zM207 447h1v6h-1zM213 447h1v6h-1zM215 447h2v6h-2zM219 447h2v6h-2zM222 447h1v6h-1zM228 447h1v6h-1zM230 447h2v6h-2zM234 447h2v6h-2zM237 447h1v6h-1zM242 447h1v6h-1zM244 447h2v6h-2zM248 447h2v6h-2zM251 447h1v6h-1zM257 447h1v6h-1zM259 447h2v6h-2zM263 447h2v6h-2zM266 447h1v6h-1zM272 447h1v6h-1zM274 447h2v6h-2zM278 447h2v6h-2zM281 447h1v6h-1zM287 447h1v6h-1zM289 447h2v6h-2zM293 447h2v6h-2zM296 447h1v6h-1zM302 447h1v6h-1zM304 447h2v6h-2zM308 447h2v6h-2zM311 447h1v6h-1zM317 447h1v6h-1zM319 447h2v6h-2zM323 447h2v6h-2zM326 447h1v6h-1zM332 447h1v6h-1zM334 447h2v6h-2zM338 447h2v6h-2zM341 447h1v6h-1zM347 447h1v6h-1zM349 447h2v6h-2zM353 447h2v6h-2zM356 447h1v6h-1zM362 447h1v6h-1zM364 447h2v6h-2zM368 447h2v6h-2zM371 447h1v6h-1zM377 447h1v6h-1zM379 447h2v6h-2zM383 447h2v6h-2zM386 447h1v6h-1zM392 447h1v6h-1zM394 447h2v6h-2zM398 447h2v6h-2zM401 447h1v6h-1zM407 447h1v6h-1zM409 447h2v6h-2zM413 447h2v6h-2zM416 447h1v6h-1zM422 447h1v6h-1zM424 447h2v6h-2zM428 447h2v6h-2zM431 447h1v6h-1zM437 447h1v6h-1zM439 447h2v6h-2zM443 447h2v6h-2zM446 447h1v6h-1zM452 447h1v6h-1zM454 447h2v6h-2zM458 447h2v6h-2zM461 447h1v6h-1zM467 447h1v6h-1zM469 447h2v6h-2zM473 447h2v6h-2zM476 447h1v6h-1zM482 447h1v6h-1zM484 447h2v6h-2zM488 447h2v6h-2zM491 447h1v6h-1zM496 447h1v6h-1zM498 447h2v6h-2zM502 447h2v6h-2zM505 447h1v6h-1zM511 447h1v6h-1zM513 447h2v6h-2zM517 447h2v6h-2zM520 447h1v6h-1zM526 447h1v6h-1zM528 447h2v6h-2zM532 447h2v6h-2zM535 447h1v6h-1zM541 447h1v6h-1zM543 447h2v6h-2zM547 447h2v6h-2zM550 447h1v6h-1zM556 447h1v6h-1zM558 447h2v6h-2zM562 447h2v6h-2zM565 447h1v6h-1zM571 447h1v6h-1zM573 447h2v6h-2zM577 447h2v6h-2zM580 447h1v6h-1zM586 447h1v6h-1zM588 447h2v6h-2zM592 447h2v6h-2zM595 447h1v6h-1zM601 447h1v6h-1zM603 447h2v6h-2zM607 447h2v6h-2zM610 447h1v6h-1zM616 447h1v6h-1zM618 447h2v6h-2zM622 447h2v6h-2zM625 447h1v6h-1zM100 447h1v6h-1zM633 447h1v6h-1zM108 458h1v29h-1zM110 458h2v29h-2zM114 458h2v29h-2zM117 458h1v29h-1zM123 458h1v29h-1zM125 458h2v29h-2zM129 458h2v29h-2zM132 458h1v29h-1zM138 458h1v29h-1zM140 458h2v29h-2zM144 458h2v29h-2zM147 458h1v29h-1zM153 458h1v29h-1zM155 458h2v29h-2zM159 458h2v29h-2zM162 458h1v29h-1zM168 458h1v29h-1zM170 458h2v29h-2zM174 458h2v29h-2zM177 458h1v29h-1zM183 458h1v29h-1zM185 458h2v29h-2zM189 458h2v29h-2zM192 458h1v29h-1zM198 458h1v29h-1zM200 458h2v29h-2zM204 458h2v29h-2zM207 458h1v29h-1zM213 458h1v29h-1zM215 458h2v29h-2zM219 458h2v29h-2zM222 458h1v29h-1zM228 458h1v29h-1zM230 458h2v29h-2zM234 458h2v29h-2zM237 458h1v29h-1zM242 458h1v29h-1zM244 458h2v29h-2zM248 458h2v29h-2zM251 458h1v29h-1zM257 458h1v29h-1zM259 458h2v29h-2zM263 458h2v29h-2zM266 458h1v29h-1zM272 458h1v29h-1zM274 458h2v29h-2zM278 458h2v29h-2zM281 458h1v29h-1zM287 458h1v29h-1zM289 458h2v29h-2zM293 458h2v29h-2zM296 458h1v29h-1zM302 458h1v29h-1zM304 458h2v29h-2zM308 458h2v29h-2zM311 458h1v29h-1zM317 458h1v29h-1zM319 458h2v29h-2zM323 458h2v29h-2zM326 458h1v29h-1zM332 458h1v29h-1zM334 458h2v29h-2zM338 458h2v29h-2zM341 458h1v29h-1zM347 458h1v29h-1zM349 458h2v29h-2zM353 458h2v29h-2zM356 458h1v29h-1zM362 458h1v29h-1zM364 458h2v29h-2zM368 458h2v29h-2zM371 458h1v29h-1zM377 458h1v29h-1zM379 458h2v29h-2zM383 458h2v29h-2zM386 458h1v29h-1zM392 458h1v29h-1zM394 458h2v29h-2zM398 458h2v29h-2zM401 458h1v29h-1zM407 458h1v29h-1zM409 458h2v29h-2zM413 458h2v29h-2zM416 458h1v29h-1zM422 458h1v29h-1zM424 458h2v29h-2zM428 458h2v29h-2zM431 458h1v29h-1zM437 458h1v29h-1zM439 458h2v29h-2zM443 458h2v29h-2zM446 458h1v29h-1zM452 458h1v29h-1zM454 458h2v29h-2zM458 458h2v29h-2zM461 458h1v29h-1zM467 458h1v29h-1zM469 458h2v29h-2zM473 458h2v29h-2zM476 458h1v29h-1zM482 458h1v29h-1zM484 458h2v29h-2zM488 458h2v29h-2zM491 458h1v29h-1zM496 458h1v29h-1zM498 458h2v29h-2zM502 458h2v29h-2zM505 458h1v29h-1zM511 458h1v29h-1zM513 458h2v29h-2zM517 458h2v29h-2zM520 458h1v29h-1zM526 458h1v29h-1zM528 458h2v29h-2zM532 458h2v29h-2zM535 458h1v29h-1zM541 458h1v29h-1zM543 458h2v29h-2zM547 458h2v29h-2zM550 458h1v29h-1zM556 458h1v29h-1zM558 458h2v29h-2zM562 458h2v29h-2zM565 458h1v29h-1zM571 458h1v29h-1zM573 458h2v29h-2zM577 458h2v29h-2zM580 458h1v29h-1zM586 458h1v29h-1zM588 458h2v29h-2zM592 458h2v29h-2zM595 458h1v29h-1zM601 458h1v29h-1zM603 458h2v29h-2zM607 458h2v29h-2zM610 458h1v29h-1zM616 458h1v29h-1zM618 458h2v29h-2zM622 458h2v29h-2zM625 458h1v29h-1zM100 458h1v29h-1zM633 458h1v29h-1zM108 492h1v6h-1zM110 492h2v6h-2zM114 492h2v6h-2zM117 492h1v6h-1zM123 492h1v6h-1zM125 492h2v6h-2zM129 492h2v6h-2zM132 492h1v6h-1zM138 492h1v6h-1zM140 492h2v6h-2zM144 492h2v6h-2zM147 492h1v6h-1zM153 492h1v6h-1zM155 492h2v6h-2zM159 492h2v6h-2zM162 492h1v6h-1zM168 492h1v6h-1zM170 492h2v6h-2zM174 492h2v6h-2zM177 492h1v6h-1zM183 492h1v6h-1zM185 492h2v6h-2zM189 492h2v6h-2zM192 492h1v6h-1zM198 492h1v6h-1zM200 492h2v6h-2zM204 492h2v6h-2zM207 492h1v6h-1zM213 492h1v6h-1zM215 492h2v6h-2zM219 492h2v6h-2zM222 492h1v6h-1zM228 492h1v6h-1zM230 492h2v6h-2zM234 492h2v6h-2zM237 492h1v6h-1zM242 492h1v6h-1zM244 492h2v6h-2zM248 492h2v6h-2zM251 492h1v6h-1zM257 492h1v6h-1zM259 492h2v6h-2zM263 492h2v6h-2zM266 492h1v6h-1zM272 492h1v6h-1zM274 492h2v6h-2zM278 492h2v6h-2zM281 492h1v6h-1zM287 492h1v6h-1zM289 492h2v6h-2zM293 492h2v6h-2zM296 492h1v6h-1zM302 492h1v6h-1zM304 492h2v6h-2zM308 492h2v6h-2zM311 492h1v6h-1zM317 492h1v6h-1zM319 492h2v6h-2zM323 492h2v6h-2zM326 492h1v6h-1zM332 492h1v6h-1zM334 492h2v6h-2zM338 492h2v6h-2zM341 492h1v6h-1zM347 492h1v6h-1zM349 492h2v6h-2zM353 492h2v6h-2zM356 492h1v6h-1zM362 492h1v6h-1zM364 492h2v6h-2zM368 492h2v6h-2zM371 492h1v6h-1zM377 492h1v6h-1zM379 492h2v6h-2zM383 492h2v6h-2zM386 492h1v6h-1zM392 492h1v6h-1zM394 492h2v6h-2zM398 492h2v6h-2zM401 492h1v6h-1zM407 492h1v6h-1zM409 492h2v6h-2zM413 492h2v6h-2zM416 492h1v6h-1zM422 492h1v6h-1zM424 492h2v6h-2zM428 492h2v6h-2zM431 492h1v6h-1zM437 492h1v6h-1zM439 492h2v6h-2zM443 492h2v6h-2zM446 492h1v6h-1zM452 492h1v6h-1zM454 492h2v6h-2zM458 492h2v6h-2zM461 492h1v6h-1zM467 492h1v6h-1zM469 492h2v6h-2zM473 492h2v6h-2zM476 492h1v6h-1zM482 492h1v6h-1zM484 492h2v6h-2zM488 492h2v6h-2zM491 492h1v6h-1zM496 492h1v6h-1zM498 492h2v6h-2zM502 492h2v6h-2zM505 492h1v6h-1zM511 492h1v6h-1zM513 492h2v6h-2zM517 492h2v6h-2zM520 492h1v6h-1zM526 492h1v6h-1zM528 492h2v6h-2zM532 492h2v6h-2zM535 492h1v6h-1zM541 492h1v6h-1zM543 492h2v6h-2zM547 492h2v6h-2zM550 492h1v6h-1zM556 492h1v6h-1zM558 492h2v6h-2zM562 492h2v6h-2zM565 492h1v6h-1zM571 492h1v6h-1zM573 492h2v6h-2zM577 492h2v6h-2zM580 492h1v6h-1zM586 492h1v6h-1zM588 492h2v6h-2zM592 492h2v6h-2zM595 492h1v6h-1zM601 492h1v6h-1zM603 492h2v6h-2zM607 492h2v6h-2zM610 492h1v6h-1zM616 492h1v6h-1zM618 492h2v6h-2zM622 492h2v6h-2zM625 492h1v6h-1zM100 492h1v6h-1zM633 492h1v6h-1zM108 503h1v6h-1zM110 503h2v6h-2zM114 503h2v6h-2zM117 503h1v6h-1zM123 503h1v6h-1zM125 503h2v6h-2zM129 503h2v6h-2zM132 503h1v6h-1zM138 503h1v6h-1zM140 503h2v6h-2zM144 503h2v6h-2zM147 503h1v6h-1zM153 503h1v6h-1zM155 503h2v6h-2zM159 503h2v6h-2zM162 503h1v6h-1zM168 503h1v6h-1zM170 503h2v6h-2zM174 503h2v6h-2zM177 503h1v6h-1zM183 503h1v6h-1zM185 503h2v6h-2zM189 503h2v6h-2zM192 503h1v6h-1zM198 503h1v6h-1zM200 503h2v6h-2zM204 503h2v6h-2zM207 503h1v6h-1zM213 503h1v6h-1zM215 503h2v6h-2zM219 503h2v6h-2zM222 503h1v6h-1zM228 503h1v6h-1zM230 503h2v6h-2zM234 503h2v6h-2zM237 503h1v6h-1zM242 503h1v6h-1zM244 503h2v6h-2zM248 503h2v6h-2zM251 503h1v6h-1zM257 503h1v6h-1zM259 503h2v6h-2zM263 503h2v6h-2zM266 503h1v6h-1zM272 503h1v6h-1zM274 503h2v6h-2zM278 503h2v6h-2zM281 503h1v6h-1zM287 503h1v6h-1zM289 503h2v6h-2zM293 503h2v6h-2zM296 503h1v6h-1zM302 503h1v6h-1zM304 503h2v6h-2zM308 503h2v6h-2zM311 503h1v6h-1zM317 503h1v6h-1zM319 503h2v6h-2zM323 503h2v6h-2zM326 503h1v6h-1zM332 503h1v6h-1zM334 503h2v6h-2zM338 503h2v6h-2zM341 503h1v6h-1zM347 503h1v6h-1zM349 503h2v6h-2zM353 503h2v6h-2zM356 503h1v6h-1zM362 503h1v6h-1zM364 503h2v6h-2zM368 503h2v6h-2zM371 503h1v6h-1zM377 503h1v6h-1zM379 503h2v6h-2zM383 503h2v6h-2zM386 503h1v6h-1zM392 503h1v6h-1zM394 503h2v6h-2zM398 503h2v6h-2zM401 503h1v6h-1zM407 503h1v6h-1zM409 503h2v6h-2zM413 503h2v6h-2zM416 503h1v6h-1zM422 503h1v6h-1zM424 503h2v6h-2zM428 503h2v6h-2zM431 503h1v6h-1zM437 503h1v6h-1zM439 503h2v6h-2zM443 503h2v6h-2zM446 503h1v6h-1zM452 503h1v6h-1zM454 503h2v6h-2zM458 503h2v6h-2zM461 503h1v6h-1zM467 503h1v6h-1zM469 503h2v6h-2zM473 503h2v6h-2zM476 503h1v6h-1zM482 503h1v6h-1zM484 503h2v6h-2zM488 503h2v6h-2zM491 503h1v6h-1zM496 503h1v6h-1zM498 503h2v6h-2zM502 503h2v6h-2zM505 503h1v6h-1zM511 503h1v6h-1zM513 503h2v6h-2zM517 503h2v6h-2zM520 503h1v6h-1zM526 503h1v6h-1zM528 503h2v6h-2zM532 503h2v6h-2zM535 503h1v6h-1zM541 503h1v6h-1zM543 503h2v6h-2zM547 503h2v6h-2zM550 503h1v6h-1zM556 503h1v6h-1zM558 503h2v6h-2zM562 503h2v6h-2zM565 503h1v6h-1zM571 503h1v6h-1zM573 503h2v6h-2zM577 503h2v6h-2zM580 503h1v6h-1zM586 503h1v6h-1zM588 503h2v6h-2zM592 503h2v6h-2zM595 503h1v6h-1zM601 503h1v6h-1zM603 503h2v6h-2zM607 503h2v6h-2zM610 503h1v6h-1zM616 503h1v6h-1zM618 503h2v6h-2zM622 503h2v6h-2zM625 503h1v6h-1zM100 503h1v6h-1zM633 503h1v6h-1zM108 514h1v29h-1zM110 514h2v29h-2zM114 514h2v29h-2zM117 514h1v29h-1zM123 514h1v29h-1zM125 514h2v29h-2zM129 514h2v29h-2zM132 514h1v29h-1zM138 514h1v29h-1zM140 514h2v29h-2zM144 514h2v29h-2zM147 514h1v29h-1zM153 514h1v29h-1zM155 514h2v29h-2zM159 514h2v29h-2zM162 514h1v29h-1zM168 514h1v29h-1zM170 514h2v29h-2zM174 514h2v29h-2zM177 514h1v29h-1zM183 514h1v29h-1zM185 514h2v29h-2zM189 514h2v29h-2zM192 514h1v29h-1zM198 514h1v29h-1zM200 514h2v29h-2zM204 514h2v29h-2zM207 514h1v29h-1zM213 514h1v29h-1zM215 514h2v29h-2zM219 514h2v29h-2zM222 514h1v29h-1zM228 514h1v29h-1zM230 514h2v29h-2zM234 514h2v29h-2zM237 514h1v29h-1zM242 514h1v29h-1zM244 514h2v29h-2zM248 514h2v29h-2zM251 514h1v29h-1zM257 514h1v29h-1zM259 514h2v29h-2zM263 514h2v29h-2zM266 514h1v29h-1zM272 514h1v29h-1zM274 514h2v29h-2zM278 514h2v29h-2zM281 514h1v29h-1zM287 514h1v29h-1zM289 514h2v29h-2zM293 514h2v29h-2zM296 514h1v29h-1zM302 514h1v29h-1zM304 514h2v29h-2zM308 514h2v29h-2zM311 514h1v29h-1zM317 514h1v29h-1zM319 514h2v29h-2zM323 514h2v29h-2zM326 514h1v29h-1zM332 514h1v29h-1zM334 514h2v29h-2zM338 514h2v29h-2zM341 514h1v29h-1zM347 514h1v29h-1zM349 514h2v29h-2zM353 514h2v29h-2zM356 514h1v29h-1zM362 514h1v29h-1zM364 514h2v29h-2zM368 514h2v29h-2zM371 514h1v29h-1zM377 514h1v29h-1zM379 514h2v29h-2zM383 514h2v29h-2zM386 514h1v29h-1zM392 514h1v29h-1zM394 514h2v29h-2zM398 514h2v29h-2zM401 514h1v29h-1zM407 514h1v29h-1zM409 514h2v29h-2zM413 514h2v29h-2zM416 514h1v29h-1zM422 514h1v29h-1zM424 514h2v29h-2zM428 514h2v29h-2zM431 514h1v29h-1zM437 514h1v29h-1zM439 514h2v29h-2zM443 514h2v29h-2zM446 514h1v29h-1zM452 514h1v29h-1zM454 514h2v29h-2zM458 514h2v29h-2zM461 514h1v29h-1zM467 514h1v29h-1zM469 514h2v29h-2zM473 514h2v29h-2zM476 514h1v29h-1zM482 514h1v29h-1zM484 514h2v29h-2zM488 514h2v29h-2zM491 514h1v29h-1zM496 514h1v29h-1zM498 514h2v29h-2zM502 514h2v29h-2zM505 514h1v29h-1zM511 514h1v29h-1zM513 514h2v29h-2zM517 514h2v29h-2zM520 514h1v29h-1zM526 514h1v29h-1zM528 514h2v29h-2zM532 514h2v29h-2zM535 514h1v29h-1zM541 514h1v29h-1zM543 514h2v29h-2zM547 514h2v29h-2zM550 514h1v29h-1zM556 514h1v29h-1zM558 514h2v29h-2zM562 514h2v29h-2zM565 514h1v29h-1zM571 514h1v29h-1zM573 514h2v29h-2zM577 514h2v29h-2zM580 514h1v29h-1zM586 514h1v29h-1zM588 514h2v29h-2zM592 514h2v29h-2zM595 514h1v29h-1zM601 514h1v29h-1zM603 514h2v29h-2zM607 514h2v29h-2zM610 514h1v29h-1zM616 514h1v29h-1zM618 514h2v29h-2zM622 514h2v29h-2zM625 514h1v29h-1zM100 514h1v29h-1zM633 514h1v29h-1zM108 548h1v6h-1zM110 548h2v6h-2zM114 548h2v6h-2zM117 548h1v6h-1zM123 548h1v6h-1zM125 548h2v6h-2zM129 548h2v6h-2zM132 548h1v6h-1zM138 548h1v6h-1zM140 548h2v6h-2zM144 548h2v6h-2zM147 548h1v6h-1zM153 548h1v6h-1zM155 548h2v6h-2zM159 548h2v6h-2zM162 548h1v6h-1zM168 548h1v6h-1zM170 548h2v6h-2zM174 548h2v6h-2zM177 548h1v6h-1zM183 548h1v6h-1zM185 548h2v6h-2zM189 548h2v6h-2zM192 548h1v6h-1zM198 548h1v6h-1zM200 548h2v6h-2zM204 548h2v6h-2zM207 548h1v6h-1zM213 548h1v6h-1zM215 548h2v6h-2zM219 548h2v6h-2zM222 548h1v6h-1zM228 548h1v6h-1zM230 548h2v6h-2zM234 548h2v6h-2zM237 548h1v6h-1zM242 548h1v6h-1zM244 548h2v6h-2zM248 548h2v6h-2zM251 548h1v6h-1zM257 548h1v6h-1zM259 548h2v6h-2zM263 548h2v6h-2zM266 548h1v6h-1zM272 548h1v6h-1zM274 548h2v6h-2zM278 548h2v6h-2zM281 548h1v6h-1zM287 548h1v6h-1zM289 548h2v6h-2zM293 548h2v6h-2zM296 548h1v6h-1zM302 548h1v6h-1zM304 548h2v6h-2zM308 548h2v6h-2zM311 548h1v6h-1zM317 548h1v6h-1zM319 548h2v6h-2zM323 548h2v6h-2zM326 548h1v6h-1zM332 548h1v6h-1zM334 548h2v6h-2zM338 548h2v6h-2zM341 548h1v6h-1zM347 548h1v6h-1zM349 548h2v6h-2zM353 548h2v6h-2zM356 548h1v6h-1zM362 548h1v6h-1zM364 548h2v6h-2zM368 548h2v6h-2zM371 548h1v6h-1zM377 548h1v6h-1zM379 548h2v6h-2zM383 548h2v6h-2zM386 548h1v6h-1zM392 548h1v6h-1zM394 548h2v6h-2zM398 548h2v6h-2zM401 548h1v6h-1zM407 548h1v6h-1zM409 548h2v6h-2zM413 548h2v6h-2zM416 548h1v6h-1zM422 548h1v6h-1zM424 548h2v6h-2zM428 548h2v6h-2zM431 548h1v6h-1zM437 548h1v6h-1zM439 548h2v6h-2zM443 548h2v6h-2zM446 548h1v6h-1zM452 548h1v6h-1zM454 548h2v6h-2zM458 548h2v6h-2zM461 548h1v6h-1zM467 548h1v6h-1zM469 548h2v6h-2zM473 548h2v6h-2zM476 548h1v6h-1zM482 548h1v6h-1zM484 548h2v6h-2zM488 548h2v6h-2zM491 548h1v6h-1zM496 548h1v6h-1zM498 548h2v6h-2zM502 548h2v6h-2zM505 548h1v6h-1zM511 548h1v6h-1zM513 548h2v6h-2zM517 548h2v6h-2zM520 548h1v6h-1zM526 548h1v6h-1zM528 548h2v6h-2zM532 548h2v6h-2zM535 548h1v6h-1zM541 548h1v6h-1zM543 548h2v6h-2zM547 548h2v6h-2zM550 548h1v6h-1zM556 548h1v6h-1zM558 548h2v6h-2zM562 548h2v6h-2zM565 548h1v6h-1zM571 548h1v6h-1zM573 548h2v6h-2zM577 548h2v6h-2zM580 548h1v6h-1zM586 548h1v6h-1zM588 548h2v6h-2zM592 548h2v6h-2zM595 548h1v6h-1zM601 548h1v6h-1zM603 548h2v6h-2zM607 548h2v6h-2zM610 548h1v6h-1zM616 548h1v6h-1zM618 548h2v6h-2zM622 548h2v6h-2zM625 548h1v6h-1zM100 548h1v6h-1zM633 548h1v6h-1zM108 559h1v6h-1zM110 559h2v6h-2zM114 559h2v6h-2zM117 559h1v6h-1zM123 559h1v6h-1zM125 559h2v6h-2zM129 559h2v6h-2zM132 559h1v6h-1zM138 559h1v6h-1zM140 559h2v6h-2zM144 559h2v6h-2zM147 559h1v6h-1zM153 559h1v6h-1zM155 559h2v6h-2zM159 559h2v6h-2zM162 559h1v6h-1zM168 559h1v6h-1zM170 559h2v6h-2zM174 559h2v6h-2zM177 559h1v6h-1zM183 559h1v6h-1zM185 559h2v6h-2zM189 559h2v6h-2zM192 559h1v6h-1zM198 559h1v6h-1zM200 559h2v6h-2zM204 559h2v6h-2zM207 559h1v6h-1zM213 559h1v6h-1zM215 559h2v6h-2zM219 559h2v6h-2zM222 559h1v6h-1zM228 559h1v6h-1zM230 559h2v6h-2zM234 559h2v6h-2zM237 559h1v6h-1zM242 559h1v6h-1zM244 559h2v6h-2zM248 559h2v6h-2zM251 559h1v6h-1zM257 559h1v6h-1zM259 559h2v6h-2zM263 559h2v6h-2zM266 559h1v6h-1zM272 559h1v6h-1zM274 559h2v6h-2zM278 559h2v6h-2zM281 559h1v6h-1zM287 559h1v6h-1zM289 559h2v6h-2zM293 559h2v6h-2zM296 559h1v6h-1zM302 559h1v6h-1zM304 559h2v6h-2zM308 559h2v6h-2zM311 559h1v6h-1zM317 559h1v6h-1zM319 559h2v6h-2zM323 559h2v6h-2zM326 559h1v6h-1zM332 559h1v6h-1zM334 559h2v6h-2zM338 559h2v6h-2zM341 559h1v6h-1zM347 559h1v6h-1zM349 559h2v6h-2zM353 559h2v6h-2zM356 559h1v6h-1zM362 559h1v6h-1zM364 559h2v6h-2zM368 559h2v6h-2zM371 559h1v6h-1zM377 559h1v6h-1zM379 559h2v6h-2zM383 559h2v6h-2zM386 559h1v6h-1zM392 559h1v6h-1zM394 559h2v6h-2zM398 559h2v6h-2zM401 559h1v6h-1zM407 559h1v6h-1zM409 559h2v6h-2zM413 559h2v6h-2zM416 559h1v6h-1zM422 559h1v6h-1zM424 559h2v6h-2zM428 559h2v6h-2zM431 559h1v6h-1zM437 559h1v6h-1zM439 559h2v6h-2zM443 559h2v6h-2zM446 559h1v6h-1zM452 559h1v6h-1zM454 559h2v6h-2zM458 559h2v6h-2zM461 559h1v6h-1zM467 559h1v6h-1zM469 559h2v6h-2zM473 559h2v6h-2zM476 559h1v6h-1zM482 559h1v6h-1zM484 559h2v6h-2zM488 559h2v6h-2zM491 559h1v6h-1zM496 559h1v6h-1zM498 559h2v6h-2zM502 559h2v6h-2zM505 559h1v6h-1zM511 559h1v6h-1zM513 559h2v6h-2zM517 559h2v6h-2zM520 559h1v6h-1zM526 559h1v6h-1zM528 559h2v6h-2zM532 559h2v6h-2zM535 559h1v6h-1zM541 559h1v6h-1zM543 559h2v6h-2zM547 559h2v6h-2zM550 559h1v6h-1zM556 559h1v6h-1zM558 559h2v6h-2zM562 559h2v6h-2zM565 559h1v6h-1zM571 559h1v6h-1zM573 559h2v6h-2zM577 559h2v6h-2zM580 559h1v6h-1zM586 559h1v6h-1zM588 559h2v6h-2zM592 559h2v6h-2zM595 559h1v6h-1zM601 559h1v6h-1zM603 559h2v6h-2zM607 559h2v6h-2zM610 559h1v6h-1zM616 559h1v6h-1zM618 559h2v6h-2zM622 559h2v6h-2zM625 559h1v6h-1zM100 559h1v6h-1zM633 559h1v6h-1zM108 570h1v32h-1zM110 570h2v32h-2zM114 570h2v32h-2zM117 570h1v32h-1zM123 570h1v32h-1zM125 570h2v32h-2zM129 570h2v32h-2zM132 570h1v32h-1zM138 570h1v32h-1zM140 570h2v32h-2zM144 570h2v32h-2zM147 570h1v32h-1zM153 570h1v32h-1zM155 570h2v32h-2zM159 570h2v32h-2zM162 570h1v32h-1zM168 570h1v32h-1zM170 570h2v32h-2zM174 570h2v32h-2zM177 570h1v32h-1zM183 570h1v32h-1zM185 570h2v32h-2zM189 570h2v32h-2zM192 570h1v32h-1zM198 570h1v32h-1zM200 570h2v32h-2zM204 570h2v32h-2zM207 570h1v32h-1zM213 570h1v32h-1zM215 570h2v32h-2zM219 570h2v32h-2zM222 570h1v32h-1zM228 570h1v32h-1zM230 570h2v32h-2zM234 570h2v32h-2zM237 570h1v32h-1zM242 570h1v32h-1zM244 570h2v32h-2zM248 570h2v32h-2zM251 570h1v32h-1zM257 570h1v32h-1zM259 570h2v32h-2zM263 570h2v32h-2zM266 570h1v32h-1zM272 570h1v32h-1zM274 570h2v32h-2zM278 570h2v32h-2zM281 570h1v32h-1zM287 570h1v32h-1zM289 570h2v32h-2zM293 570h2v32h-2zM296 570h1v32h-1zM302 570h1v32h-1zM304 570h2v32h-2zM308 570h2v32h-2zM311 570h1v32h-1zM317 570h1v32h-1zM319 570h2v32h-2zM323 570h2v32h-2zM326 570h1v32h-1zM332 570h1v32h-1zM334 570h2v32h-2zM338 570h2v32h-2zM341 570h1v32h-1zM347 570h1v32h-1zM349 570h2v32h-2zM353 570h2v32h-2zM356 570h1v32h-1zM362 570h1v32h-1zM364 570h2v32h-2zM368 570h2v32h-2zM371 570h1v32h-1zM377 570h1v32h-1zM379 570h2v32h-2zM383 570h2v32h-2zM386 570h1v32h-1zM392 570h1v32h-1zM394 570h2v32h-2zM398 570h2v32h-2zM401 570h1v32h-1zM407 570h1v32h-1zM409 570h2v32h-2zM413 570h2v32h-2zM416 570h1v32h-1zM422 570h1v32h-1zM424 570h2v32h-2zM428 570h2v32h-2zM431 570h1v32h-1zM437 570h1v32h-1zM439 570h2v32h-2zM443 570h2v32h-2zM446 570h1v32h-1zM452 570h1v32h-1zM454 570h2v32h-2zM458 570h2v32h-2zM461 570h1v32h-1zM467 570h1v32h-1zM469 570h2v32h-2zM473 570h2v32h-2zM476 570h1v32h-1zM482 570h1v32h-1zM484 570h2v32h-2zM488 570h2v32h-2zM491 570h1v32h-1zM496 570h1v32h-1zM498 570h2v32h-2zM502 570h2v32h-2zM505 570h1v32h-1zM511 570h1v32h-1zM513 570h2v32h-2zM517 570h2v32h-2zM520 570h1v32h-1zM526 570h1v32h-1zM528 570h2v32h-2zM532 570h2v32h-2zM535 570h1v32h-1zM541 570h1v32h-1zM543 570h2v32h-2zM547 570h2v32h-2zM550 570h1v32h-1zM556 570h1v32h-1zM558 570h2v32h-2zM562 570h2v32h-2zM565 570h1v32h-1zM571 570h1v32h-1zM573 570h2v32h-2zM577 570h2v32h-2zM580 570h1v32h-1zM586 570h1v32h-1zM588 570h2v32h-2zM592 570h2v32h-2zM595 570h1v32h-1zM601 570h1v32h-1zM603 570h2v32h-2zM607 570h2v32h-2zM610 570h1v32h-1zM616 570h1v32h-1zM618 570h2v32h-2zM622 570h2v32h-2zM625 570h1v32h-1zM100 570h1v32h-1zM633 570h1v32h-1z" fill="#000"/>
<clipPath id="hz"><rect x="132.5" y="328.5" width="469" height="206.3"/></clipPath>
<clipPath id="band"><rect x="133" y="376" width="468.5" height="22"/></clipPath>
<rect x="99" y="376" width="536" height="22" fill="#fff"/>
<path d="M-525.05 320L-319.76 545M-401.15 320L-606.44 545M-509.82 320L-304.53 545M-385.92 320L-591.21 545M-494.59 320L-289.30 545M-370.69 320L-575.98 545M-479.36 320L-274.07 545M-355.46 320L-560.75 545M-464.13 320L-258.84 545M-340.23 320L-545.52 545M-448.90 320L-243.61 545M-325.00 320L-530.29 545M-433.67 320L-228.38 545M-309.77 320L-515.06 545M-418.44 320L-213.15 545M-294.54 320L-499.83 545M-403.21 320L-197.92 545M-279.31 320L-484.60 545M-387.98 320L-182.69 545M-264.08 320L-469.37 545M-372.75 320L-167.46 545M-248.85 320L-454.14 545M-357.52 320L-152.23 545M-233.62 320L-438.91 545M-342.29 320L-137.00 545M-218.39 320L-423.68 545M-327.06 320L-121.77 545M-203.16 320L-408.45 545M-311.83 320L-106.54 545M-187.93 320L-393.22 545M-296.60 320L-91.31 545M-172.70 320L-377.99 545M-281.37 320L-76.08 545M-157.47 320L-362.76 545M-266.14 320L-60.85 545M-142.24 320L-347.53 545M-250.91 320L-45.62 545M-127.01 320L-332.30 545M-235.68 320L-30.39 545M-111.78 320L-317.07 545M-220.45 320L-15.16 545M-96.55 320L-301.84 545M-205.22 320L0.07 545M-81.32 320L-286.61 545M-189.99 320L15.30 545M-66.09 320L-271.38 545M-174.76 320L30.53 545M-50.86 320L-256.15 545M-159.53 320L45.76 545M-35.63 320L-240.92 545M-144.30 320L60.99 545M-20.40 320L-225.69 545M-129.07 320L76.22 545M-5.17 320L-210.46 545M-113.84 320L91.45 545M10.06 320L-195.23 545M-98.61 320L106.68 545M25.29 320L-180.00 545M-83.38 320L121.91 545M40.52 320L-164.77 545M-68.15 320L137.14 545M55.75 320L-149.54 545M-52.92 320L152.37 545M70.98 320L-134.31 545M-37.69 320L167.60 545M86.21 320L-119.08 545M-22.46 320L182.83 545M101.44 320L-103.85 545M-7.23 320L198.06 545M116.67 320L-88.62 545M8.00 320L213.29 545M131.90 320L-73.39 545M23.23 320L228.52 545M147.13 320L-58.16 545M38.46 320L243.75 545M162.36 320L-42.93 545M53.69 320L258.98 545M177.59 320L-27.70 545M68.92 320L274.21 545M192.82 320L-12.47 545M84.15 320L289.44 545M208.05 320L2.76 545M99.38 320L304.67 545M223.28 320L17.99 545M114.61 320L319.90 545M238.51 320L33.22 545M129.84 320L335.13 545M253.74 320L48.45 545M145.07 320L350.36 545M268.97 320L63.68 545M160.30 320L365.59 545M284.20 320L78.91 545M175.53 320L380.82 545M299.43 320L94.14 545M190.76 320L396.05 545M314.66 320L109.37 545M205.99 320L411.28 545M329.89 320L124.60 545M221.22 320L426.51 545M345.12 320L139.83 545M236.45 320L441.74 545M360.35 320L155.06 545M251.68 320L456.97 545M375.58 320L170.29 545M266.91 320L472.20 545M390.81 320L185.52 545M282.14 320L487.43 545M406.04 320L200.75 545M297.37 320L502.66 545M421.27 320L215.98 545M312.60 320L517.89 545M436.50 320L231.21 545M327.83 320L533.12 545M451.73 320L246.44 545M343.06 320L548.35 545M466.96 320L261.67 545M358.29 320L563.58 545M482.19 320L276.90 545M373.52 320L578.81 545M497.42 320L292.13 545M388.75 320L594.04 545M512.65 320L307.36 545M403.98 320L609.27 545M527.88 320L322.59 545M419.21 320L624.50 545M543.11 320L337.82 545M434.44 320L639.73 545M558.34 320L353.05 545M449.67 320L654.96 545M573.57 320L368.28 545M464.90 320L670.19 545M588.80 320L383.51 545M480.13 320L685.42 545M604.03 320L398.74 545M495.36 320L700.65 545M619.26 320L413.97 545M510.59 320L715.88 545M634.49 320L429.20 545M525.82 320L731.11 545M649.72 320L444.43 545M541.05 320L746.34 545M664.95 320L459.66 545M556.28 320L761.57 545M680.18 320L474.89 545M571.51 320L776.80 545M695.41 320L490.12 545M586.74 320L792.03 545M710.64 320L505.35 545M601.97 320L807.26 545M725.87 320L520.58 545M617.20 320L822.49 545M741.10 320L535.81 545M632.43 320L837.72 545M756.33 320L551.04 545M647.66 320L852.95 545M771.56 320L566.27 545M662.89 320L868.18 545M786.79 320L581.50 545M678.12 320L883.41 545M802.02 320L596.73 545" stroke="#000" stroke-width="1.3" fill="none" clip-path="url(#hz)"/>
<path d="M132.5 328.5H601.5V534.8H132.5Z" stroke="#000" stroke-width="1.4" fill="none"/>
<rect x="99" y="375" width="536" height="2.2" fill="#000"/>
<rect x="99" y="397" width="536" height="2" fill="#000"/>
<line x1="109.5" y1="376" x2="109.5" y2="398" stroke="#000" stroke-width="1.2" />
<line x1="624.5" y1="376" x2="624.5" y2="398" stroke="#000" stroke-width="1.2" />
<rect x="98" y="170" width="2" height="435" fill="#000"/>
<rect x="634" y="170" width="2" height="435" fill="#000"/>
<rect x="98" y="601.5" width="538" height="3" fill="#000"/>
<rect x="91.5" y="158.5" width="551" height="12" fill="#fff" stroke="#000" stroke-width="1.6"/>
<rect x="91" y="157" width="552" height="3.3" fill="#000"/>
<rect x="98" y="170.5" width="538" height="2.4" fill="#000"/>
<path d="M100.9 158.8h5M112.1 158.8h5M124.0 158.8h5M156.8 158.8h5M168.0 158.8h5M179.9 158.8h5M212.7 158.8h5M223.9 158.8h5M235.8 158.8h5M268.6 158.8h5M279.8 158.8h5M291.7 158.8h5M324.5 158.8h5M335.7 158.8h5M347.6 158.8h5M380.4 158.8h5M391.6 158.8h5M403.5 158.8h5M436.3 158.8h5M447.5 158.8h5M459.4 158.8h5M492.2 158.8h5M503.4 158.8h5M515.3 158.8h5M548.1 158.8h5M559.3 158.8h5M571.2 158.8h5M604.0 158.8h5M615.2 158.8h5M627.1 158.8h5" stroke="#fff" stroke-width="0.9"/>
<path d="M135.2 184.5H150.7V205M111.7 193.3H150.7M111.7 197.3H150.7" stroke="#000" stroke-width="1.3" fill="none"/>
<path d="M109.4 205V217.3H150.7V205" stroke="#000" stroke-width="1.3" stroke-dasharray="5 3" fill="none"/>
<path d="M583.7 184.5H625.6M583.7 192.7H625.6M583.7 197.2H625.6M583.7 184.5V205" stroke="#000" stroke-width="1.3" fill="none"/>
<path d="M583.7 205V217.3H625.6V205" stroke="#000" stroke-width="1.3" stroke-dasharray="5 3" fill="none"/>
<rect x="108" y="176" width="3.7" height="25.5" fill="#000"/>
<rect x="114.1" y="176" width="3.7" height="28.5" fill="#000"/>
<rect x="140" y="176" width="5.6" height="29" fill="#000"/>
<rect x="588" y="176" width="3" height="29" fill="#000"/>
<rect x="616.3" y="176" width="4" height="29" fill="#000"/>
<rect x="622.8" y="184" width="2.8" height="21" fill="#000"/>
<circle cx="129.9" cy="209.9" r="2.2" fill="none" stroke="#000" stroke-width="1.3"/>
<circle cx="604.2" cy="209.6" r="2.2" fill="none" stroke="#000" stroke-width="1.3"/>
<line x1="98.5" y1="69" x2="98.5" y2="210" stroke="#000" stroke-width="1.1" />
<line x1="143.5" y1="69" x2="143.5" y2="210" stroke="#000" stroke-width="1.1" />
<line x1="129.5" y1="99" x2="129.5" y2="210" stroke="#000" stroke-width="1.1" />
<line x1="116.5" y1="128" x2="116.5" y2="210" stroke="#000" stroke-width="1.1" />
<line x1="590.5" y1="69" x2="590.5" y2="210" stroke="#000" stroke-width="1.1" />
<line x1="603.5" y1="99" x2="603.5" y2="210" stroke="#000" stroke-width="1.1" />
<line x1="617.5" y1="128" x2="617.5" y2="210" stroke="#000" stroke-width="1.1" />
<line x1="98.5" y1="73.5" x2="590.5" y2="73.5" stroke="#000" stroke-width="1.1" />
<polygon points="98.5,73.5 114.5,71.6 114.5,75.4" fill="#000"/>
<polygon points="143.5,73.5 127.5,75.4 127.5,71.6" fill="#000"/>
<polygon points="143.5,73.5 159.5,71.6 159.5,75.4" fill="#000"/>
<polygon points="590.5,73.5 574.5,75.4 574.5,71.6" fill="#000"/>
<line x1="98.5" y1="104.5" x2="603.5" y2="104.5" stroke="#000" stroke-width="1.1" />
<polygon points="98.5,104.5 114.5,102.6 114.5,106.4" fill="#000"/>
<polygon points="129.5,104.5 113.5,106.4 113.5,102.6" fill="#000"/>
<polygon points="129.5,104.5 145.5,102.6 145.5,106.4" fill="#000"/>
<polygon points="603.5,104.5 587.5,106.4 587.5,102.6" fill="#000"/>
<line x1="57" y1="133.5" x2="617.5" y2="133.5" stroke="#000" stroke-width="1.1" />
<polygon points="98.5,133.5 82.5,135.4 82.5,131.6" fill="#000"/>
<polygon points="116.5,133.5 132.5,131.6 132.5,135.4" fill="#000"/>
<polygon points="617.5,133.5 601.5,135.4 601.5,131.6" fill="#000"/>
<text x="112" y="70" font-size="19" letter-spacing="0" text-anchor="start" fill="#111">66</text>
<text x="352" y="70" font-size="19" letter-spacing="0" text-anchor="start" fill="#111">658</text>
<text x="105" y="100" font-size="19" letter-spacing="0" text-anchor="start" fill="#111">46</text>
<text x="352" y="100" font-size="19" letter-spacing="0" text-anchor="start" fill="#111">698</text>
<text x="64" y="129" font-size="19" letter-spacing="0" text-anchor="start" fill="#111">26</text>
<text x="351.5" y="129" font-size="19" letter-spacing="0" text-anchor="start" fill="#111">738</text>
<text x="487" y="20" font-size="20" letter-spacing="0.65" text-anchor="start" fill="#111">Место крепления</text>
<text x="487" y="40" font-size="20" letter-spacing="0.65" text-anchor="start" fill="#111">монтажных пластин</text>
<path d="M487 45H700L625 190" stroke="#444" stroke-width="1.4" fill="none"/>
<line x1="15" y1="159.5" x2="91" y2="159.5" stroke="#000" stroke-width="1.1" />
<line x1="43" y1="201.5" x2="583.7" y2="201.5" stroke="#000" stroke-width="1.1" />
<line x1="67" y1="210.5" x2="583.7" y2="210.5" stroke="#000" stroke-width="1.1" />
<line x1="15" y1="736.5" x2="98" y2="736.5" stroke="#000" stroke-width="1.1" />
<line x1="19.5" y1="159.5" x2="19.5" y2="736.5" stroke="#000" stroke-width="1.1" />
<polygon points="19.5,159.5 21.4,175.5 17.6,175.5" fill="#000"/>
<polygon points="19.5,736.5 17.6,720.5 21.4,720.5" fill="#000"/>
<line x1="47.5" y1="201.5" x2="47.5" y2="736.5" stroke="#000" stroke-width="1.1" />
<polygon points="47.5,201.5 49.4,217.5 45.6,217.5" fill="#000"/>
<polygon points="47.5,736.5 45.6,720.5 49.4,720.5" fill="#000"/>
<line x1="72.5" y1="210.5" x2="72.5" y2="736.5" stroke="#000" stroke-width="1.1" />
<polygon points="72.5,210.5 74.4,226.5 70.6,226.5" fill="#000"/>
<polygon points="72.5,736.5 70.6,720.5 74.4,720.5" fill="#000"/>
<text x="16.4" y="463" font-size="19" letter-spacing="0" text-anchor="start" fill="#111" transform="rotate(-90 16.4 463)">850</text>
<text x="43.5" y="483.5" font-size="19" letter-spacing="0" text-anchor="start" fill="#111" transform="rotate(-90 43.5 483.5)">788</text>
<text x="68.9" y="487.5" font-size="19" letter-spacing="0" text-anchor="start" fill="#111" transform="rotate(-90 68.9 487.5)">775</text>
<line x1="601.5" y1="328.5" x2="693" y2="328.5" stroke="#000" stroke-width="1.1" />
<line x1="601.5" y1="534.5" x2="693" y2="534.5" stroke="#000" stroke-width="1.1" />
<line x1="636" y1="736.5" x2="693" y2="736.5" stroke="#000" stroke-width="1.1" />
<line x1="687.5" y1="328.5" x2="687.5" y2="736.5" stroke="#000" stroke-width="1.1" />
<polygon points="687.5,328.5 689.4,344.5 685.6,344.5" fill="#000"/>
<polygon points="687.5,534.5 685.6,518.5 689.4,518.5" fill="#000"/>
<polygon points="687.5,534.5 689.4,550.5 685.6,550.5" fill="#000"/>
<polygon points="687.5,736.5 685.6,720.5 689.4,720.5" fill="#000"/>
<text x="684.7" y="447" font-size="19" letter-spacing="0" text-anchor="start" fill="#111" transform="rotate(-90 684.7 447)">304</text>
<text x="685.2" y="649.5" font-size="19" letter-spacing="0" text-anchor="start" fill="#111" transform="rotate(-90 685.2 649.5)">297</text>
<line x1="98.5" y1="604" x2="98.5" y2="639.5" stroke="#000" stroke-width="1.1" />
<line x1="132.5" y1="535" x2="132.5" y2="639.5" stroke="#000" stroke-width="1.1" />
<line x1="601.5" y1="535" x2="601.5" y2="639.5" stroke="#000" stroke-width="1.1" />
<line x1="98.5" y1="634.5" x2="601.5" y2="634.5" stroke="#000" stroke-width="1.1" />
<polygon points="98.5,634.5 114.5,632.6 114.5,636.4" fill="#000"/>
<polygon points="132.5,634.5 116.5,636.4 116.5,632.6" fill="#000"/>
<polygon points="132.5,634.5 148.5,632.6 148.5,636.4" fill="#000"/>
<polygon points="601.5,634.5 585.5,636.4 585.5,632.6" fill="#000"/>
<text x="106" y="631" font-size="19" letter-spacing="0" text-anchor="start" fill="#111">50</text>
<text x="353" y="630.6" font-size="19" letter-spacing="0" text-anchor="start" fill="#111">690</text>
<line x1="98.5" y1="690.5" x2="98.5" y2="736.5" stroke="#000" stroke-width="1.2" />
<line x1="634.5" y1="690.5" x2="634.5" y2="736.5" stroke="#000" stroke-width="1.2" />
<line x1="98.5" y1="695" x2="634.5" y2="695" stroke="#000" stroke-width="1.1" />
<polygon points="98.5,695.0 114.5,693.1 114.5,696.9" fill="#000"/>
<polygon points="634.5,695.0 618.5,696.9 618.5,693.1" fill="#000"/>
<rect x="98" y="736" width="538" height="2" fill="#000"/>
<text x="353.6" y="691" font-size="19" letter-spacing="0" text-anchor="start" fill="#111">790</text>
<path d="M211.5 478.5L403.5 690.6H532" stroke="#222" stroke-width="1.3" fill="none"/>
<text x="408" y="666" font-size="20" letter-spacing="0.7" text-anchor="start" fill="#111">Водопровод</text>
<text x="408" y="685.4" font-size="20" letter-spacing="0.6" text-anchor="start" fill="#111">Канализация</text>
<path d="M754.5 157.5V603.5M754.5 157.5H768.5L770 159.5H1070.5V170.5H754.5M1041.5 172.5V375.5H1054.5V172.5ZM1052.5 172.5V375.5M1041.5 399.5V601.5H1054.5V399.5ZM1052.5 399.5V601.5M837.5 272.1H900M837.5 272.1V351.8M835.3 285V333.8M830.6 333.8V357.2H837.5M840 357.2H864.8M882.3 361V370.8H893M882.3 370.8L893.5 380.5M803.5 480.5H875.9M803.5 465V583.1M803.5 565.3H796.9V586.8M796.9 586.8H845.4M830.8 587.4V591.7M830.8 587.4H845" stroke="#b0b0b0" stroke-width="1" fill="none"/>
<path d="M815.5 200V239.4C816 248 819 252 823.4 255.5C828 262 833 267 842.2 269.5H891.5V252.9M832.1 187.1L838.2 219.3C840 228 842 233 844.9 235.4C848 240 852 244.8 857 244.8H886.5M862.3 214.6L865 235.4H878.5" stroke="#bdbdbd" stroke-width="1" fill="none"/>
<path d="M817.4 184.1C825 184.5 835 187 845 195L859.7 211.2L886.5 244.8C893 253 899 264 902 276C905 290 903 310 897 328C893 340 892 352 894 365C896 385 897 405 894 425C892 440 890 455 888.8 460L877 480L863 518.7L853.3 546.6L846.9 582L841.5 596L839.5 603" stroke="#8c8c8c" stroke-width="1.1" fill="none"/>
<path d="M837.5 352.1H893.2M864.8 361.2H893.2M803.5 583.1H846.9" stroke="#999" stroke-width="2" fill="none"/>
<path d="M754.5 603.5H1041" stroke="#999" stroke-width="1.2" fill="none"/>
<circle cx="842.7" cy="299.1" r="2.4" fill="none" stroke="#b0b0b0" stroke-width="1"/>
<circle cx="884.8" cy="339" r="2.4" fill="none" stroke="#b0b0b0" stroke-width="1"/>
<circle cx="809.8" cy="512.3" r="2.2" fill="none" stroke="#b0b0b0" stroke-width="1"/>
<pattern id="xh" patternUnits="userSpaceOnUse" width="6.1" height="6.1"><path d="M-1 -1L7.1 7.1M7.1 -1L-1 7.1" stroke="#000" stroke-width="1.15"/></pattern>
<rect x="769" y="181.2" width="49" height="18.3" fill="url(#xh)"/>
<rect x="755.7" y="277" width="11.5" height="54.5" fill="url(#xh)"/>
<path d="M755.7 538.2H767V592H843.8L840 603H755.7Z" fill="url(#xh)"/>
<path d="M757 181H762V185H769M762 181V195M757 181V190" stroke="#555" stroke-width="1" fill="none"/>
<line x1="767" y1="331.5" x2="767" y2="390" stroke="#000" stroke-width="1.2" />
<line x1="837.4" y1="351.3" x2="837.4" y2="420" stroke="#000" stroke-width="1.2" />
<line x1="767" y1="385.5" x2="837.4" y2="385.5" stroke="#000" stroke-width="1.1" />
<polygon points="767.0,385.5 783.0,383.6 783.0,387.4" fill="#000"/>
<polygon points="837.4,385.5 821.4,387.4 821.4,383.6" fill="#000"/>
<line x1="754.7" y1="416.5" x2="837.4" y2="416.5" stroke="#000" stroke-width="1.1" />
<polygon points="754.7,416.5 770.7,414.6 770.7,418.4" fill="#000"/>
<polygon points="837.4,416.5 821.4,418.4 821.4,414.6" fill="#000"/>
<text x="790" y="381.3" font-size="19" letter-spacing="0" text-anchor="start" fill="#111">104</text>
<text x="784.7" y="411.4" font-size="19" letter-spacing="0" text-anchor="start" fill="#111">122</text>
<line x1="803.5" y1="465" x2="803.5" y2="480.5" stroke="#000" stroke-width="1.2" />
<line x1="754.7" y1="469.5" x2="803.4" y2="469.5" stroke="#000" stroke-width="1.1" />
<polygon points="754.7,469.5 770.7,467.6 770.7,471.4" fill="#000"/>
<polygon points="803.4,469.5 787.4,471.4 787.4,467.6" fill="#000"/>
<line x1="766.2" y1="496.8" x2="766.2" y2="538.7" stroke="#000" stroke-width="1.2" />
<line x1="766.2" y1="502" x2="803.4" y2="502" stroke="#000" stroke-width="1.1" />
<polygon points="766.2,502.0 782.2,500.1 782.2,503.9" fill="#000"/>
<polygon points="803.4,502.0 787.4,503.9 787.4,500.1" fill="#000"/>
<text x="769.5" y="465" font-size="19" letter-spacing="0" text-anchor="start" fill="#111">72</text>
<text x="776" y="497.4" font-size="19" letter-spacing="0" text-anchor="start" fill="#111">54</text>
</svg></body></html>
